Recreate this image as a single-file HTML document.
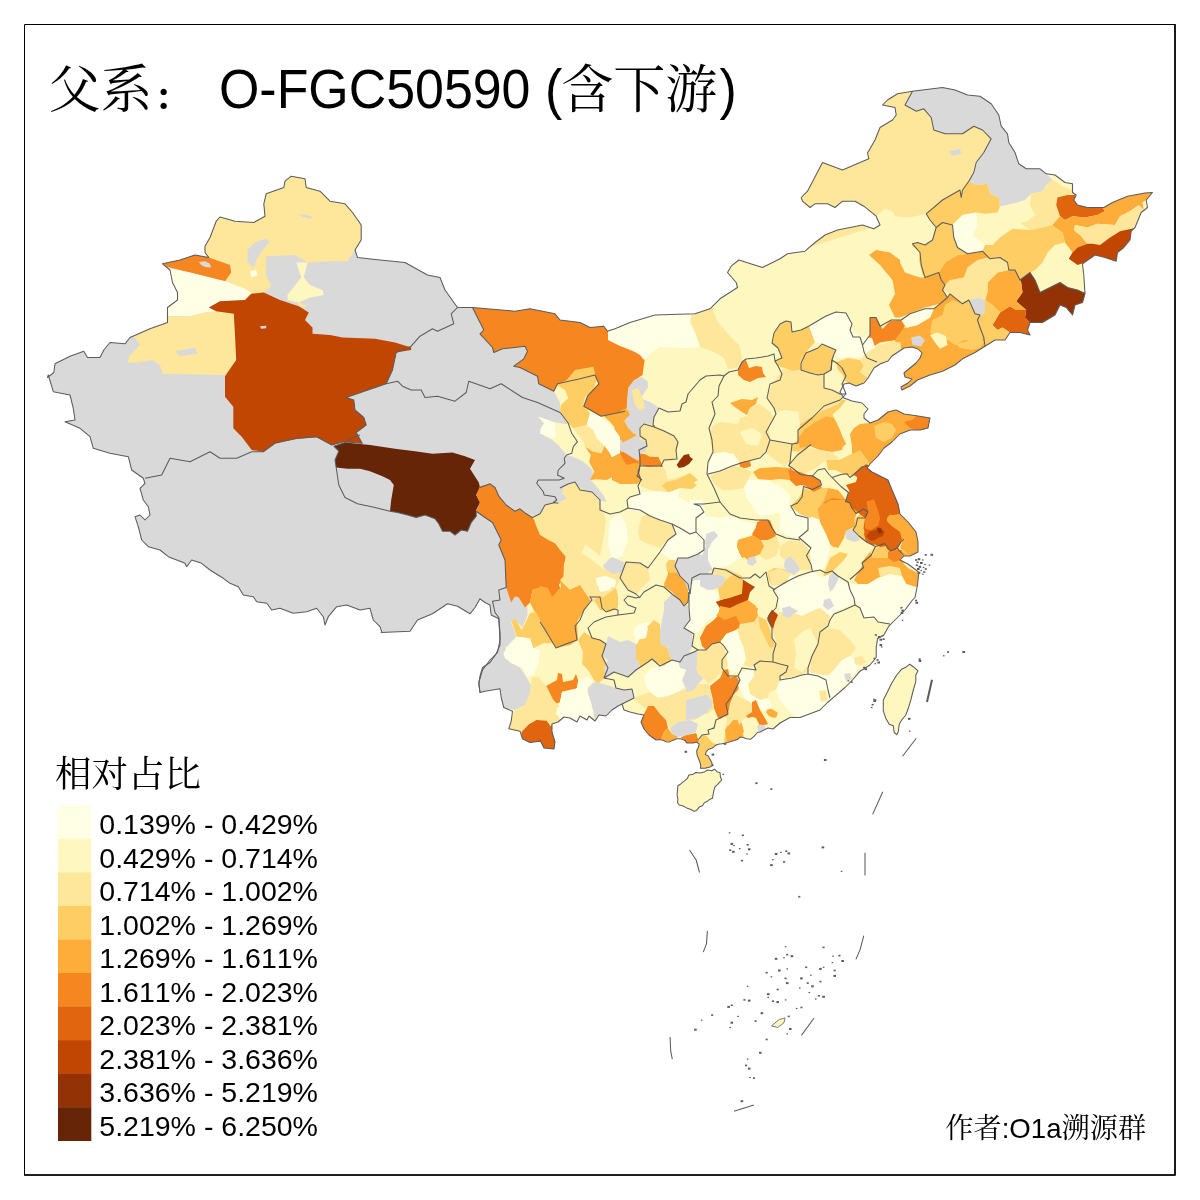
<!DOCTYPE html>
<html lang="zh"><head><meta charset="utf-8"><title>O-FGC50590</title>
<style>
html,body{margin:0;padding:0;background:#fff;}
body{font-kerning:none;width:1200px;height:1200px;overflow:hidden;position:relative;font-family:"Liberation Sans","Noto Serif CJK SC",sans-serif;color:#000;}
svg{position:absolute;left:0;top:0;}
.t{position:absolute;white-space:nowrap;line-height:1;}
.cj{font-family:"Noto Serif CJK SC","Noto Sans CJK SC",serif;}
.lg{position:absolute;left:99.3px;font-size:28.5px;line-height:1;white-space:nowrap;}
</style></head><body>
<svg width="1200" height="1200" viewBox="0 0 1200 1200" shape-rendering="geometricPrecision">

<defs><clipPath id="cn"><path d="M47.5,377.5 L53.8,372.5 L55.0,363.8 L70.0,356.2 L83.8,351.2 L87.5,357.5 L100.0,357.5 L103.8,350.0 L110.0,342.5 L125.0,343.8 L130.0,337.5 L150.0,328.8 L167.5,322.5 L167.5,307.5 L177.5,300.0 L177.5,292.5 L172.5,282.5 L170.0,270.0 L162.5,263.8 L180.0,260.0 L195.0,255.0 L208.8,257.5 L205.0,252.5 L205.0,246.2 L210.0,237.5 L216.2,221.2 L220.0,217.0 L235.0,221.2 L253.8,222.5 L265.0,216.2 L263.8,203.8 L266.2,193.8 L283.8,187.5 L285.0,181.2 L291.2,176.2 L305.0,178.8 L306.2,187.5 L320.0,191.2 L330.0,201.2 L345.0,203.8 L352.5,212.5 L361.2,225.0 L361.2,240.0 L355.0,250.0 L357.5,257.5 L380.0,260.0 L405.0,262.5 L427.5,275.0 L440.0,277.5 L445.0,290.0 L457.5,307.5 L472.5,307.5 L515.0,311.2 L530.0,308.8 L555.0,313.8 L560.0,320.0 L580.0,322.5 L590.0,327.5 L603.8,326.2 L607.5,331.2 L615.0,328.8 L630.0,322.5 L655.0,315.0 L695.0,313.8 L710.0,308.8 L720.0,298.8 L737.5,287.5 L736.2,282.5 L727.5,272.5 L731.2,266.2 L738.8,260.0 L762.5,267.5 L780.0,258.8 L787.5,253.8 L805.0,251.2 L815.0,242.5 L825.0,235.0 L837.5,230.0 L862.5,225.0 L873.8,228.8 L880.0,225.0 L876.2,216.2 L863.8,206.2 L855.0,201.2 L842.5,201.2 L835.0,207.5 L827.5,203.8 L815.0,203.8 L810.0,207.5 L802.5,201.2 L801.2,197.5 L807.5,191.2 L822.5,162.5 L842.5,170.0 L868.8,158.8 L867.5,152.5 L868.3,151.7 L875.0,140.0 L880.0,127.5 L892.5,120.0 L896.2,115.0 L895.0,107.5 L882.5,105.0 L887.5,100.0 L897.5,93.8 L912.5,91.2 L942.5,87.5 L955.0,90.0 L967.5,95.0 L980.0,96.2 L991.2,103.8 L998.8,115.0 L1001.2,126.2 L1007.5,133.8 L1008.8,142.5 L1015.0,152.5 L1018.8,163.8 L1026.2,168.8 L1040.0,168.8 L1046.2,173.8 L1055.0,175.0 L1065.0,182.5 L1072.5,183.8 L1072.5,192.5 L1076.2,195.0 L1073.8,200.0 L1077.5,205.0 L1087.5,207.5 L1103.8,207.5 L1112.5,202.5 L1127.5,196.2 L1145.0,193.0 L1152.5,192.5 L1146.2,200.0 L1147.5,207.5 L1141.2,212.5 L1135.0,227.5 L1131.2,231.2 L1130.0,240.0 L1123.8,247.5 L1117.5,252.5 L1116.2,261.2 L1105.0,257.5 L1095.0,255.0 L1082.5,263.8 L1083.8,275.0 L1085.0,293.8 L1082.5,302.5 L1075.0,305.0 L1072.5,315.0 L1066.2,307.5 L1060.0,305.0 L1055.0,315.0 L1042.5,322.5 L1030.0,322.5 L1027.5,330.0 L1030.0,335.0 L1020.0,332.5 L1010.0,332.5 L1005.0,340.0 L995.0,340.0 L985.0,346.2 L975.0,352.5 L962.5,358.8 L955.0,365.0 L942.5,371.2 L930.0,375.0 L917.5,380.0 L910.0,386.0 L902.0,390.0 L901.0,387.0 L908.0,383.0 L912.0,379.0 L905.0,377.0 L904.0,373.0 L910.0,368.0 L916.0,363.0 L920.0,358.0 L922.0,353.0 L918.0,349.0 L912.0,347.0 L904.0,348.0 L898.0,352.0 L892.0,356.0 L888.0,361.0 L880.0,364.0 L874.0,368.0 L868.0,378.0 L864.0,383.0 L856.0,386.0 L849.0,383.0 L844.0,384.0 L840.0,392.0 L844.0,398.0 L852.0,401.0 L862.0,403.0 L868.0,409.0 L864.0,414.0 L864.0,418.0 L870.0,423.0 L878.0,420.0 L888.0,412.0 L896.0,410.0 L904.0,414.0 L918.0,416.0 L930.0,418.0 L928.0,428.0 L920.0,430.0 L910.0,430.0 L900.0,434.0 L892.0,442.0 L884.0,448.0 L878.0,456.0 L870.0,464.0 L867.0,468.0 L872.0,472.0 L888.0,480.0 L892.0,490.0 L898.0,504.0 L900.0,514.0 L908.0,522.0 L916.0,532.0 L918.0,542.0 L918.0,552.0 L910.0,556.0 L904.0,556.0 L900.0,560.0 L908.0,564.0 L916.0,570.0 L918.8,572.5 L917.5,585.0 L915.0,597.5 L912.5,600.0 L905.0,610.0 L895.0,620.0 L888.8,626.2 L883.8,635.0 L877.5,638.8 L876.2,647.5 L876.2,657.5 L870.0,665.0 L860.0,671.2 L852.5,680.0 L845.0,687.5 L835.0,696.2 L827.5,702.5 L820.0,710.0 L810.0,713.8 L800.0,717.5 L790.0,717.5 L780.0,723.0 L773.0,729.0 L768.0,728.0 L760.0,732.0 L757.5,732.5 L754.2,736.2 L750.8,739.2 L746.7,738.8 L743.3,737.5 L740.0,737.1 L737.5,739.6 L733.3,740.8 L729.2,742.1 L725.0,743.3 L721.7,743.8 L718.3,744.2 L715.0,745.8 L713.3,747.5 L711.7,748.3 L708.8,749.2 L706.2,751.7 L705.4,754.6 L707.9,755.8 L710.0,759.2 L711.7,762.5 L712.5,765.4 L710.0,767.1 L705.0,768.3 L700.4,768.3 L700.8,765.4 L700.0,762.5 L698.8,759.2 L697.1,755.0 L696.7,750.8 L698.3,747.5 L699.2,744.2 L696.7,742.1 L693.3,742.9 L686.7,742.9 L685.0,740.4 L680.8,738.8 L676.7,738.8 L672.5,740.4 L669.2,742.1 L665.8,741.7 L663.3,740.4 L660.0,739.6 L656.0,740.0 L649.0,735.0 L644.0,729.0 L641.0,722.0 L644.0,715.0 L638.0,714.0 L630.0,712.0 L624.0,710.0 L622.0,704.0 L618.0,706.0 L612.0,710.0 L606.0,716.0 L599.0,715.0 L595.0,721.0 L589.0,716.0 L587.0,720.0 L580.0,716.0 L577.0,722.0 L570.0,718.0 L564.0,717.0 L558.0,722.0 L552.0,724.0 L552.0,732.0 L555.0,742.0 L554.0,749.0 L544.0,748.0 L540.0,740.0 L540.0,741.2 L530.0,742.5 L522.5,738.8 L520.0,731.2 L508.8,728.8 L511.2,721.2 L512.5,711.2 L503.8,707.5 L501.2,697.5 L500.0,688.8 L485.0,691.2 L480.0,692.5 L478.8,683.8 L480.0,676.2 L482.5,667.5 L490.0,662.5 L496.2,653.8 L500.0,645.0 L500.0,632.5 L498.8,618.8 L491.2,615.0 L490.0,605.0 L485.0,602.5 L480.0,598.8 L475.0,607.5 L470.0,613.8 L457.5,606.2 L447.5,603.8 L432.5,613.8 L417.5,620.0 L410.0,631.2 L381.2,632.5 L381.7,631.7 L380.0,626.7 L373.3,620.0 L370.0,608.3 L360.0,610.0 L346.7,605.0 L336.7,606.7 L328.3,616.7 L325.0,625.0 L323.3,616.7 L316.7,608.3 L306.7,611.7 L293.3,613.3 L280.0,608.3 L271.7,610.0 L266.7,603.3 L256.7,601.7 L253.3,596.7 L243.3,595.0 L238.3,586.7 L230.0,583.3 L223.3,578.3 L210.0,570.0 L201.7,563.3 L191.7,560.0 L186.7,566.7 L185.0,563.3 L176.7,560.0 L168.3,556.7 L160.0,550.0 L148.3,546.7 L141.7,540.0 L138.3,526.7 L135.0,516.7 L140.0,515.0 L145.0,520.0 L150.0,515.0 L148.3,506.7 L143.3,500.0 L140.0,488.3 L145.0,483.3 L143.3,478.3 L131.7,470.0 L128.3,456.7 L110.0,453.3 L93.3,448.3 L90.0,436.7 L80.0,428.3 L65.0,421.7 L75.0,420.0 L73.3,408.3 L70.0,395.0 L53.3,391.7 L48.3,375.0Z M909.7,664.2 L913.3,666.7 L918.0,670.8 L915.8,675.0 L915.8,681.7 L913.3,690.0 L910.8,700.0 L908.3,708.3 L905.8,715.0 L901.7,720.0 L899.2,724.2 L898.3,731.7 L896.7,734.7 L894.2,732.5 L893.3,725.8 L889.2,724.2 L885.8,718.3 L883.3,710.8 L883.3,700.0 L887.5,691.7 L891.7,683.3 L896.7,675.0 L901.7,669.2 L906.7,666.7Z M677.9,785.8 L680.4,784.2 L684.2,781.2 L687.5,778.3 L688.8,775.0 L692.5,774.6 L695.8,772.5 L700.0,772.9 L704.2,772.1 L707.5,770.0 L711.7,770.8 L714.6,769.2 L717.5,772.1 L720.0,772.5 L720.4,776.7 L721.7,780.0 L719.6,782.1 L717.5,784.6 L715.0,786.7 L713.8,790.8 L712.9,795.8 L712.5,798.3 L710.0,799.2 L707.5,801.2 L704.2,802.9 L702.5,805.8 L699.2,807.1 L696.7,810.4 L694.2,811.2 L690.8,809.6 L686.7,807.9 L682.5,805.8 L679.2,805.0 L677.5,802.5 L677.9,799.2 L677.1,795.0 L677.5,790.0Z"/></clipPath></defs>
<g stroke="none" clip-path="url(#cn)">
<path d="M47.5,377.5 L53.8,372.5 L55.0,363.8 L70.0,356.2 L83.8,351.2 L87.5,357.5 L100.0,357.5 L103.8,350.0 L110.0,342.5 L125.0,343.8 L130.0,337.5 L150.0,328.8 L167.5,322.5 L167.5,307.5 L177.5,300.0 L177.5,292.5 L172.5,282.5 L170.0,270.0 L162.5,263.8 L180.0,260.0 L195.0,255.0 L208.8,257.5 L205.0,252.5 L205.0,246.2 L210.0,237.5 L216.2,221.2 L220.0,217.0 L235.0,221.2 L253.8,222.5 L265.0,216.2 L263.8,203.8 L266.2,193.8 L283.8,187.5 L285.0,181.2 L291.2,176.2 L305.0,178.8 L306.2,187.5 L320.0,191.2 L330.0,201.2 L345.0,203.8 L352.5,212.5 L361.2,225.0 L361.2,240.0 L355.0,250.0 L357.5,257.5 L380.0,260.0 L405.0,262.5 L427.5,275.0 L440.0,277.5 L445.0,290.0 L457.5,307.5 L472.5,307.5 L515.0,311.2 L530.0,308.8 L555.0,313.8 L560.0,320.0 L580.0,322.5 L590.0,327.5 L603.8,326.2 L607.5,331.2 L615.0,328.8 L630.0,322.5 L655.0,315.0 L695.0,313.8 L710.0,308.8 L720.0,298.8 L737.5,287.5 L736.2,282.5 L727.5,272.5 L731.2,266.2 L738.8,260.0 L762.5,267.5 L780.0,258.8 L787.5,253.8 L805.0,251.2 L815.0,242.5 L825.0,235.0 L837.5,230.0 L862.5,225.0 L873.8,228.8 L880.0,225.0 L876.2,216.2 L863.8,206.2 L855.0,201.2 L842.5,201.2 L835.0,207.5 L827.5,203.8 L815.0,203.8 L810.0,207.5 L802.5,201.2 L801.2,197.5 L807.5,191.2 L822.5,162.5 L842.5,170.0 L868.8,158.8 L867.5,152.5 L868.3,151.7 L875.0,140.0 L880.0,127.5 L892.5,120.0 L896.2,115.0 L895.0,107.5 L882.5,105.0 L887.5,100.0 L897.5,93.8 L912.5,91.2 L942.5,87.5 L955.0,90.0 L967.5,95.0 L980.0,96.2 L991.2,103.8 L998.8,115.0 L1001.2,126.2 L1007.5,133.8 L1008.8,142.5 L1015.0,152.5 L1018.8,163.8 L1026.2,168.8 L1040.0,168.8 L1046.2,173.8 L1055.0,175.0 L1065.0,182.5 L1072.5,183.8 L1072.5,192.5 L1076.2,195.0 L1073.8,200.0 L1077.5,205.0 L1087.5,207.5 L1103.8,207.5 L1112.5,202.5 L1127.5,196.2 L1145.0,193.0 L1152.5,192.5 L1146.2,200.0 L1147.5,207.5 L1141.2,212.5 L1135.0,227.5 L1131.2,231.2 L1130.0,240.0 L1123.8,247.5 L1117.5,252.5 L1116.2,261.2 L1105.0,257.5 L1095.0,255.0 L1082.5,263.8 L1083.8,275.0 L1085.0,293.8 L1082.5,302.5 L1075.0,305.0 L1072.5,315.0 L1066.2,307.5 L1060.0,305.0 L1055.0,315.0 L1042.5,322.5 L1030.0,322.5 L1027.5,330.0 L1030.0,335.0 L1020.0,332.5 L1010.0,332.5 L1005.0,340.0 L995.0,340.0 L985.0,346.2 L975.0,352.5 L962.5,358.8 L955.0,365.0 L942.5,371.2 L930.0,375.0 L917.5,380.0 L910.0,386.0 L902.0,390.0 L901.0,387.0 L908.0,383.0 L912.0,379.0 L905.0,377.0 L904.0,373.0 L910.0,368.0 L916.0,363.0 L920.0,358.0 L922.0,353.0 L918.0,349.0 L912.0,347.0 L904.0,348.0 L898.0,352.0 L892.0,356.0 L888.0,361.0 L880.0,364.0 L874.0,368.0 L868.0,378.0 L864.0,383.0 L856.0,386.0 L849.0,383.0 L844.0,384.0 L840.0,392.0 L844.0,398.0 L852.0,401.0 L862.0,403.0 L868.0,409.0 L864.0,414.0 L864.0,418.0 L870.0,423.0 L878.0,420.0 L888.0,412.0 L896.0,410.0 L904.0,414.0 L918.0,416.0 L930.0,418.0 L928.0,428.0 L920.0,430.0 L910.0,430.0 L900.0,434.0 L892.0,442.0 L884.0,448.0 L878.0,456.0 L870.0,464.0 L867.0,468.0 L872.0,472.0 L888.0,480.0 L892.0,490.0 L898.0,504.0 L900.0,514.0 L908.0,522.0 L916.0,532.0 L918.0,542.0 L918.0,552.0 L910.0,556.0 L904.0,556.0 L900.0,560.0 L908.0,564.0 L916.0,570.0 L918.8,572.5 L917.5,585.0 L915.0,597.5 L912.5,600.0 L905.0,610.0 L895.0,620.0 L888.8,626.2 L883.8,635.0 L877.5,638.8 L876.2,647.5 L876.2,657.5 L870.0,665.0 L860.0,671.2 L852.5,680.0 L845.0,687.5 L835.0,696.2 L827.5,702.5 L820.0,710.0 L810.0,713.8 L800.0,717.5 L790.0,717.5 L780.0,723.0 L773.0,729.0 L768.0,728.0 L760.0,732.0 L757.5,732.5 L754.2,736.2 L750.8,739.2 L746.7,738.8 L743.3,737.5 L740.0,737.1 L737.5,739.6 L733.3,740.8 L729.2,742.1 L725.0,743.3 L721.7,743.8 L718.3,744.2 L715.0,745.8 L713.3,747.5 L711.7,748.3 L708.8,749.2 L706.2,751.7 L705.4,754.6 L707.9,755.8 L710.0,759.2 L711.7,762.5 L712.5,765.4 L710.0,767.1 L705.0,768.3 L700.4,768.3 L700.8,765.4 L700.0,762.5 L698.8,759.2 L697.1,755.0 L696.7,750.8 L698.3,747.5 L699.2,744.2 L696.7,742.1 L693.3,742.9 L686.7,742.9 L685.0,740.4 L680.8,738.8 L676.7,738.8 L672.5,740.4 L669.2,742.1 L665.8,741.7 L663.3,740.4 L660.0,739.6 L656.0,740.0 L649.0,735.0 L644.0,729.0 L641.0,722.0 L644.0,715.0 L638.0,714.0 L630.0,712.0 L624.0,710.0 L622.0,704.0 L618.0,706.0 L612.0,710.0 L606.0,716.0 L599.0,715.0 L595.0,721.0 L589.0,716.0 L587.0,720.0 L580.0,716.0 L577.0,722.0 L570.0,718.0 L564.0,717.0 L558.0,722.0 L552.0,724.0 L552.0,732.0 L555.0,742.0 L554.0,749.0 L544.0,748.0 L540.0,740.0 L540.0,741.2 L530.0,742.5 L522.5,738.8 L520.0,731.2 L508.8,728.8 L511.2,721.2 L512.5,711.2 L503.8,707.5 L501.2,697.5 L500.0,688.8 L485.0,691.2 L480.0,692.5 L478.8,683.8 L480.0,676.2 L482.5,667.5 L490.0,662.5 L496.2,653.8 L500.0,645.0 L500.0,632.5 L498.8,618.8 L491.2,615.0 L490.0,605.0 L485.0,602.5 L480.0,598.8 L475.0,607.5 L470.0,613.8 L457.5,606.2 L447.5,603.8 L432.5,613.8 L417.5,620.0 L410.0,631.2 L381.2,632.5 L381.7,631.7 L380.0,626.7 L373.3,620.0 L370.0,608.3 L360.0,610.0 L346.7,605.0 L336.7,606.7 L328.3,616.7 L325.0,625.0 L323.3,616.7 L316.7,608.3 L306.7,611.7 L293.3,613.3 L280.0,608.3 L271.7,610.0 L266.7,603.3 L256.7,601.7 L253.3,596.7 L243.3,595.0 L238.3,586.7 L230.0,583.3 L223.3,578.3 L210.0,570.0 L201.7,563.3 L191.7,560.0 L186.7,566.7 L185.0,563.3 L176.7,560.0 L168.3,556.7 L160.0,550.0 L148.3,546.7 L141.7,540.0 L138.3,526.7 L135.0,516.7 L140.0,515.0 L145.0,520.0 L150.0,515.0 L148.3,506.7 L143.3,500.0 L140.0,488.3 L145.0,483.3 L143.3,478.3 L131.7,470.0 L128.3,456.7 L110.0,453.3 L93.3,448.3 L90.0,436.7 L80.0,428.3 L65.0,421.7 L75.0,420.0 L73.3,408.3 L70.0,395.0 L53.3,391.7 L48.3,375.0Z" fill="#FFF7C0"/>
<path d="M909.7,664.2 L913.3,666.7 L918.0,670.8 L915.8,675.0 L915.8,681.7 L913.3,690.0 L910.8,700.0 L908.3,708.3 L905.8,715.0 L901.7,720.0 L899.2,724.2 L898.3,731.7 L896.7,734.7 L894.2,732.5 L893.3,725.8 L889.2,724.2 L885.8,718.3 L883.3,710.8 L883.3,700.0 L887.5,691.7 L891.7,683.3 L896.7,675.0 L901.7,669.2 L906.7,666.7Z" fill="#FFF7C0"/>
<path d="M677.9,785.8 L680.4,784.2 L684.2,781.2 L687.5,778.3 L688.8,775.0 L692.5,774.6 L695.8,772.5 L700.0,772.9 L704.2,772.1 L707.5,770.0 L711.7,770.8 L714.6,769.2 L717.5,772.1 L720.0,772.5 L720.4,776.7 L721.7,780.0 L719.6,782.1 L717.5,784.6 L715.0,786.7 L713.8,790.8 L712.9,795.8 L712.5,798.3 L710.0,799.2 L707.5,801.2 L704.2,802.9 L702.5,805.8 L699.2,807.1 L696.7,810.4 L694.2,811.2 L690.8,809.6 L686.7,807.9 L682.5,805.8 L679.2,805.0 L677.5,802.5 L677.9,799.2 L677.1,795.0 L677.5,790.0Z" fill="#FFF7C0"/>
<path d="M0.0,100.0 L472.5,100.0 L472.5,307.5 L483.8,330.0 L480.0,333.8 L492.5,347.5 L493.8,352.5 L502.5,348.8 L525.0,346.2 L527.5,351.2 L523.8,358.8 L513.8,366.2 L520.0,367.5 L537.5,376.2 L538.8,383.8 L553.8,391.2 L560.0,402.5 L560.0,412.5 L560.8,413.3 L568.3,423.3 L567.5,424.2 L555.0,422.5 L538.3,416.7 L544.2,423.3 L540.8,428.3 L540.0,433.3 L550.0,438.3 L558.3,445.0 L566.7,455.0 L573.3,456.7 L583.3,461.7 L590.8,468.3 L593.3,472.5 L590.8,480.0 L596.7,486.7 L603.3,495.0 L606.7,501.7 L600.0,500.8 L596.7,495.0 L585.0,490.8 L578.3,486.7 L575.0,481.7 L570.0,484.2 L563.3,488.3 L562.5,493.3 L567.5,498.3 L558.3,503.3 L548.3,504.2 L544.2,504.2 L542.5,510.0 L545.0,511.7 L533.3,515.8 L525.0,513.3 L520.0,508.3 L516.7,510.8 L508.3,506.7 L500.0,497.5 L527.5,607.5 L527.5,615.0 L522.5,627.5 L515.0,620.0 L511.2,622.5 L516.2,636.2 L512.5,642.5 L505.0,647.5 L510.0,662.5 L520.0,667.5 L525.0,675.0 L531.2,685.0 L530.0,695.0 L525.0,705.0 L515.0,710.0 L503.8,707.5 L495.0,715.0 L0.0,720.0Z" fill="#D9D9D9"/>
<path d="M202.5,260.0 L180.0,175.0 L342.5,175.0 L361.2,225.0 L361.2,240.0 L355.0,250.0 L347.5,261.2 L330.0,261.2 L307.5,262.5 L295.0,255.0 L266.2,256.2 L266.2,275.0 L271.2,286.2 L263.8,292.5 L252.5,293.8 L245.0,288.8 L225.0,281.2 L231.2,272.5 L230.0,265.0 L208.8,257.5Z" fill="#FEE79B"/>
<path d="M247.5,250.0 L255.0,242.5 L265.0,238.8 L270.0,241.2 L262.5,250.0 L256.2,260.0 L253.8,267.5 L247.5,262.5Z" fill="#D9D9D9"/>
<path d="M298.8,213.8 L305.0,214.5 L312.5,217.0 L311.2,218.8 L302.5,217.0Z" fill="#D9D9D9"/>
<path d="M250.0,271.2 L256.2,270.0 L257.5,275.0 L251.2,277.5Z" fill="#FFFFE5"/>
<path d="M155.0,263.8 L180.0,260.0 L195.0,253.8 L208.8,257.5 L230.0,265.0 L231.2,272.5 L225.0,281.2 L210.0,277.5 L190.0,272.5 L170.0,267.5Z" fill="#F68720"/>
<path d="M198.8,262.0 L205.0,261.2 L210.0,263.8 L211.2,267.5 L205.0,267.0 L201.2,265.0Z" fill="#D9D9D9"/>
<path d="M165.0,267.5 L190.0,272.5 L210.0,277.5 L225.0,281.2 L245.0,288.8 L252.5,293.8 L245.0,300.0 L220.0,301.2 L208.8,307.5 L216.2,311.2 L205.0,312.5 L190.0,316.2 L168.8,316.2 L155.0,307.5Z" fill="#FFFFE5"/>
<path d="M168.8,316.2 L190.0,316.2 L205.0,312.5 L216.2,311.2 L233.8,313.8 L235.0,335.0 L236.2,360.0 L225.0,375.0 L162.5,373.8 L160.0,365.0 L152.5,360.0 L137.5,362.5 L127.5,362.5 L130.0,355.0 L140.0,345.0 L135.0,337.5 L125.0,325.0 L167.5,322.5Z" fill="#FEE79B"/>
<path d="M175.0,351.2 L195.0,347.5 L197.5,353.8 L180.0,356.2Z" fill="#D9D9D9"/>
<path d="M296.2,262.5 L307.5,262.5 L303.8,277.5 L310.0,285.0 L322.5,290.0 L323.8,295.0 L310.0,297.5 L298.8,302.5 L287.5,300.0 L287.5,295.0 L301.2,277.5Z" fill="#FFF7C0"/>
<path d="M295.0,300.0 L298.8,302.5 L307.5,306.2 L301.2,307.5Z" fill="#FEE79B"/>
<path d="M208.8,307.5 L220.0,301.2 L245.0,300.0 L251.2,293.8 L263.8,292.5 L280.0,300.0 L298.8,306.2 L308.8,312.5 L305.0,320.0 L312.5,327.5 L312.5,333.8 L330.0,335.0 L342.5,337.5 L375.0,338.8 L395.0,342.5 L411.2,347.5 L411.2,350.0 L396.2,352.5 L392.5,370.0 L386.2,383.8 L346.2,397.5 L353.8,400.0 L355.0,410.0 L363.8,417.5 L366.2,425.0 L356.2,432.5 L362.5,443.8 L361.7,443.3 L343.3,441.7 L331.7,445.0 L316.7,437.3 L296.7,439.0 L275.0,443.3 L263.3,451.7 L251.7,450.0 L241.7,436.7 L233.3,428.3 L233.3,406.7 L225.0,396.7 L225.0,375.0 L225.0,376.2 L236.2,360.0 L235.0,335.0 L233.8,313.8 L216.2,311.2Z" fill="#C04602"/>
<path d="M260.0,326.2 L266.2,325.8 L266.2,328.2 L261.2,328.8Z" fill="#D9D9D9"/>
<path d="M333.8,446.2 L345.0,442.5 L370.0,445.0 L395.0,448.8 L415.0,451.2 L432.5,453.8 L452.5,452.5 L465.0,456.2 L475.0,460.0 L470.0,468.8 L478.8,482.5 L480.0,487.5 L476.2,495.0 L480.0,502.5 L476.2,510.0 L476.2,516.2 L471.2,522.5 L467.5,531.2 L461.2,530.0 L455.0,535.0 L450.0,531.2 L442.5,531.2 L438.8,523.8 L435.0,518.8 L425.0,515.0 L416.2,517.5 L407.5,515.0 L397.5,512.5 L390.0,511.2 L391.2,500.0 L393.8,485.0 L390.0,480.0 L382.5,476.2 L370.0,471.2 L360.0,468.8 L347.5,468.8 L336.2,467.5 L335.0,460.0 L338.8,451.2Z" fill="#662506"/>
<path d="M472.5,307.5 L483.8,330.0 L480.0,333.8 L492.5,347.5 L493.8,352.5 L502.5,348.8 L525.0,346.2 L527.5,351.2 L523.8,358.8 L513.8,366.2 L520.0,367.5 L537.5,376.2 L538.8,383.8 L553.8,391.2 L557.5,383.8 L580.0,378.8 L595.0,375.0 L598.8,383.8 L587.5,396.2 L583.8,406.2 L601.2,416.2 L625.0,411.2 L626.7,410.0 L628.0,390.0 L635.0,380.0 L642.5,375.0 L645.0,357.5 L640.0,354.0 L630.0,350.0 L619.0,345.0 L615.0,329.0 L615.0,300.0 L472.0,300.0Z" fill="#F68720"/>
<path d="M480.0,486.2 L490.0,483.8 L495.0,487.5 L498.8,496.2 L506.2,505.0 L515.0,511.2 L520.0,508.8 L526.2,513.8 L532.5,517.5 L540.0,527.5 L540.0,533.8 L560.0,546.2 L566.2,556.2 L563.8,565.0 L563.8,577.5 L558.8,585.0 L562.5,592.5 L555.0,597.5 L551.2,600.0 L540.0,587.5 L532.5,590.0 L530.0,602.5 L525.0,607.5 L518.8,597.5 L515.0,596.2 L511.2,602.5 L506.2,587.5 L505.0,560.0 L498.8,545.0 L501.2,540.0 L492.5,522.5 L485.0,517.5 L476.2,511.2 L480.0,502.5 L476.2,495.0Z" fill="#F68720"/>
<path d="M532.5,590.0 L540.0,587.5 L551.2,600.0 L562.5,592.5 L575.0,586.2 L582.5,597.5 L591.2,600.0 L582.5,612.5 L575.0,622.5 L577.5,640.0 L570.0,645.0 L557.5,647.5 L550.0,640.0 L545.0,626.2 L535.0,612.5 L530.0,602.5Z" fill="#FEAC3A"/>
<path d="M850.0,100.0 L980.0,60.0 L1000.0,200.0 L991.2,138.8 L983.8,152.5 L976.2,162.5 L973.8,172.5 L968.8,181.2 L962.5,190.0 L961.2,197.5 L960.0,190.0 L942.5,200.0 L926.2,213.8 L910.0,217.5 L895.0,216.2 L892.5,211.2 L885.0,208.8 L876.2,216.2 L880.0,225.0 L800.0,250.0 L780.0,150.0Z" fill="#FEE79B"/>
<path d="M948.8,151.2 L960.0,148.8 L961.2,153.8 L952.5,156.2Z" fill="#D9D9D9"/>
<path d="M912.5,91.2 L905.0,105.0 L916.2,111.2 L923.8,108.8 L931.2,117.5 L933.8,130.0 L945.0,133.8 L962.5,133.8 L973.8,126.2 L982.5,130.0 L991.2,138.8 L983.8,152.5 L976.2,162.5 L973.8,172.5 L968.8,181.2 L976.2,185.0 L987.5,183.8 L990.0,193.8 L998.8,197.5 L1000.0,206.2 L1012.5,203.8 L1025.0,200.0 L1031.2,193.8 L1042.5,191.2 L1046.2,185.0 L1052.5,180.0 L1046.2,173.8 L1055.0,155.0 L1020.0,105.0 L955.0,75.0 L912.5,80.0Z" fill="#D9D9D9"/>
<path d="M926.2,213.8 L942.5,200.0 L960.0,190.0 L961.2,197.5 L962.5,190.0 L968.8,181.2 L976.2,185.0 L987.5,183.8 L990.0,193.8 L998.8,197.5 L1000.0,206.2 L997.5,212.5 L985.0,213.8 L976.2,212.5 L962.5,215.0 L952.5,225.0 L947.5,223.8 L942.5,222.5 L936.2,227.5 L930.0,220.0Z" fill="#FECE65"/>
<path d="M952.5,225.0 L962.5,215.0 L976.2,212.5 L977.5,225.0 L972.5,235.0 L985.0,245.0 L982.5,251.2 L967.5,253.8 L957.5,247.5 L953.8,237.5Z" fill="#FFFFE5"/>
<path d="M1031.2,193.8 L1042.5,191.2 L1046.2,185.0 L1052.5,180.0 L1065.0,187.5 L1080.0,192.5 L1067.5,195.0 L1057.5,197.5 L1056.2,205.0 L1060.0,216.2 L1052.5,225.0 L1042.5,227.5 L1030.0,230.0 L1020.0,222.5 L1027.5,221.2 L1035.0,215.0 L1030.0,205.0Z" fill="#FEE79B"/>
<path d="M1057.5,197.5 L1067.5,195.0 L1075.0,195.0 L1077.5,203.8 L1087.5,207.5 L1102.5,207.5 L1105.0,211.2 L1097.5,215.0 L1085.0,217.5 L1072.5,216.2 L1065.0,220.0 L1060.0,216.2 L1056.2,205.0Z" fill="#E1640E"/>
<path d="M1105.0,211.2 L1102.5,207.5 L1112.5,202.5 L1127.5,196.2 L1145.0,190.0 L1160.0,190.0 L1142.5,202.5 L1143.8,210.0 L1138.8,205.0 L1130.0,211.2 L1120.0,216.2 L1115.0,225.0 L1097.5,223.8 L1087.5,227.5 L1075.0,225.0 L1073.8,230.0 L1080.0,235.0 L1087.5,243.8 L1077.5,247.5 L1072.5,252.5 L1065.0,242.5 L1062.5,232.5 L1055.0,227.5 L1052.5,225.0 L1060.0,216.2 L1065.0,220.0 L1072.5,216.2 L1085.0,217.5 L1097.5,215.0Z" fill="#FEAC3A"/>
<path d="M1075.0,225.0 L1087.5,227.5 L1097.5,223.8 L1115.0,225.0 L1120.0,216.2 L1130.0,211.2 L1138.8,205.0 L1143.8,210.0 L1152.5,205.0 L1137.5,220.0 L1132.5,230.0 L1120.0,231.2 L1110.0,237.5 L1100.0,245.0 L1092.5,243.8 L1087.5,243.8 L1080.0,235.0 L1073.8,230.0Z" fill="#FEE79B"/>
<path d="M1072.5,252.5 L1077.5,247.5 L1087.5,243.8 L1092.5,243.8 L1100.0,245.0 L1110.0,237.5 L1120.0,231.2 L1137.5,227.5 L1130.0,240.0 L1123.8,247.5 L1117.5,252.5 L1116.2,263.8 L1105.0,257.5 L1095.0,255.0 L1085.0,262.5 L1077.5,265.0 L1068.8,258.8Z" fill="#C04602"/>
<path d="M985.0,245.0 L992.5,245.0 L1000.0,237.5 L1012.5,228.8 L1030.0,230.0 L1042.5,227.5 L1052.5,225.0 L1055.0,227.5 L1062.5,232.5 L1065.0,242.5 L1055.0,245.0 L1047.5,252.5 L1042.5,262.5 L1035.0,270.0 L1030.0,272.5 L1020.0,280.0 L1015.0,270.0 L1008.8,270.0 L1007.5,262.5 L1000.0,257.5 L990.0,258.8 L982.5,251.2Z" fill="#FECE65"/>
<path d="M1030.0,272.5 L1035.0,280.0 L1040.0,292.5 L1050.0,287.5 L1060.0,282.5 L1067.5,287.5 L1077.5,290.0 L1087.5,293.8 L1085.0,305.0 L1075.0,305.0 L1073.8,317.5 L1066.2,307.5 L1060.0,305.0 L1055.0,315.0 L1042.5,322.5 L1030.0,322.5 L1025.0,317.5 L1026.2,310.0 L1016.2,301.2 L1022.5,292.5 L1021.2,282.5 L1020.0,280.0Z" fill="#933204"/>
<path d="M1000.0,312.5 L1010.0,306.2 L1016.2,310.0 L1026.2,310.0 L1025.0,317.5 L1030.0,322.5 L1027.5,330.0 L1032.5,337.5 L1020.0,333.8 L1010.0,332.5 L1002.5,327.5 L997.5,330.0 L992.5,325.0Z" fill="#E1640E"/>
<path d="M987.5,282.5 L997.5,272.5 L1008.8,270.0 L1015.0,270.0 L1020.0,280.0 L1021.2,282.5 L1022.5,292.5 L1016.2,301.2 L1026.2,310.0 L1016.2,310.0 L1010.0,306.2 L1000.0,312.5 L992.5,305.0 L985.0,300.0 L987.5,292.5Z" fill="#FEAC3A"/>
<path d="M992.5,325.0 L997.5,330.0 L1002.5,327.5 L1010.0,332.5 L1005.0,340.0 L995.0,342.5 L985.0,348.8 L983.8,337.5 L980.0,327.5 L977.5,320.0 L980.0,315.0 L985.0,312.5 L985.0,300.0 L992.5,305.0 L1000.0,312.5Z" fill="#FECE65"/>
<path d="M968.8,300.0 L978.8,297.5 L985.0,300.0 L985.0,312.5 L980.0,315.0 L975.0,313.8 L971.2,305.0Z" fill="#D9D9D9"/>
<path d="M945.0,285.0 L950.0,280.0 L963.8,277.5 L967.5,267.5 L977.5,260.0 L987.5,257.5 L990.0,258.8 L1000.0,257.5 L1007.5,262.5 L1008.8,270.0 L997.5,272.5 L987.5,282.5 L987.5,292.5 L985.0,300.0 L978.8,297.5 L968.8,300.0 L962.5,303.8 L950.0,293.8 L942.5,290.0Z" fill="#FEE79B"/>
<path d="M938.8,272.5 L945.0,262.5 L957.5,255.0 L967.5,253.8 L982.5,251.2 L990.0,258.8 L987.5,257.5 L977.5,260.0 L967.5,267.5 L963.8,277.5 L950.0,280.0 L945.0,285.0 L941.2,280.0Z" fill="#FEAC3A"/>
<path d="M912.5,243.8 L917.5,242.5 L925.0,245.0 L932.5,240.0 L936.2,227.5 L942.5,222.5 L947.5,223.8 L952.5,225.0 L953.8,237.5 L957.5,247.5 L967.5,253.8 L957.5,255.0 L945.0,262.5 L938.8,272.5 L925.0,277.5 L921.2,265.0 L920.0,252.5 L930.0,277.5 L922.5,275.0 L919.0,260.0 L920.0,252.5 L912.5,246.0Z" fill="#FECE65"/>
<path d="M869.0,255.0 L876.0,250.0 L890.0,252.5 L900.0,260.0 L900.0,262.5 L905.0,272.5 L920.0,277.5 L925.0,277.5 L938.8,272.5 L941.2,280.0 L945.0,285.0 L942.5,290.0 L947.5,297.5 L940.0,303.8 L925.0,307.5 L912.5,312.5 L900.0,317.5 L895.0,317.5 L889.0,305.0 L895.0,294.0 L892.5,280.0 L880.0,265.0Z" fill="#FEAC3A"/>
<path d="M895.0,335.0 L903.8,327.5 L907.5,327.5 L917.5,325.0 L930.0,317.5 L933.8,308.8 L940.0,303.8 L947.5,297.5 L950.0,293.8 L962.5,303.8 L968.8,300.0 L971.2,305.0 L975.0,313.8 L980.0,315.0 L977.5,320.0 L980.0,327.5 L983.8,337.5 L985.0,348.8 L955.0,392.5 L880.0,392.5 L880.0,362.5 L895.0,360.0 L902.5,355.0 L900.0,342.5 L890.0,342.5Z" fill="#FEAC3A"/>
<path d="M901.2,320.0 L910.0,313.8 L925.0,308.8 L933.8,308.8 L930.0,317.5 L917.5,325.0 L907.5,327.5Z" fill="#FFFFE5"/>
<path d="M870.0,317.5 L876.0,317.5 L882.5,329.0 L890.0,321.0 L901.0,320.0 L905.0,326.0 L895.0,340.0 L880.0,342.5 L867.5,350.0 L862.5,345.0 L870.0,335.0Z" fill="#F68720"/>
<path d="M945.0,305.0 L952.5,300.0 L962.5,303.8 L968.8,300.0 L971.2,305.0 L975.0,313.8 L980.0,315.0 L977.5,320.0 L980.0,327.5 L983.8,337.5 L977.5,342.5 L965.0,340.0 L955.0,345.0 L947.5,340.0 L937.5,337.5 L930.0,332.5 L932.5,320.0 L942.5,315.0Z" fill="#FECE65"/>
<path d="M930.0,335.0 L937.5,332.5 L946.2,336.2 L947.5,345.0 L940.0,348.8 L935.0,342.5Z" fill="#FFF7C0"/>
<path d="M911.2,337.5 L920.0,335.5 L925.0,340.0 L921.2,346.2 L912.5,345.0Z" fill="#D9D9D9"/>
<path d="M880.0,345.0 L890.0,342.5 L900.0,342.5 L902.5,355.0 L895.0,360.0 L880.0,362.5 L870.0,355.0 L870.0,347.5Z" fill="#FEE79B"/>
<path d="M620.0,327.0 L656.0,314.0 L692.0,312.0 L690.0,322.0 L696.0,334.0 L700.0,347.0 L688.0,348.0 L660.0,347.0 L650.0,354.0 L644.0,360.0 L640.0,355.0 L632.0,350.0 L620.0,346.0 L608.0,340.0 L608.0,324.0Z" fill="#FFFFE5"/>
<path d="M692.0,312.0 L712.0,308.0 L718.0,322.0 L728.0,334.0 L740.0,346.0 L742.0,360.0 L737.0,368.0 L728.0,369.0 L724.0,358.0 L714.0,352.0 L700.0,347.0 L696.0,334.0 L690.0,322.0Z" fill="#FEE79B"/>
<path d="M634.0,380.0 L642.0,377.0 L648.0,382.0 L644.0,392.0 L640.0,398.0 L650.0,402.0 L659.0,408.0 L654.0,417.0 L653.0,425.0 L644.0,424.0 L638.0,436.0 L646.0,441.0 L646.0,452.0 L640.0,454.0 L639.0,460.0 L632.0,458.0 L620.0,450.0 L620.0,440.0 L630.0,442.0 L634.0,432.0 L628.0,426.0 L626.0,420.0 L630.0,412.0 L628.0,400.0 L628.0,388.0Z" fill="#D9D9D9"/>
<path d="M629.0,390.0 L636.0,388.0 L640.0,398.0 L644.0,404.0 L642.0,411.0 L634.0,406.0 L629.0,398.0Z" fill="#FEE79B"/>
<path d="M620.0,411.0 L626.0,408.0 L630.0,412.0 L626.0,420.0 L628.0,426.0 L634.0,432.0 L630.0,442.0 L620.0,440.0 L614.0,430.0Z" fill="#FEAC3A"/>
<path d="M644.0,424.0 L653.0,425.0 L666.0,431.0 L678.0,438.0 L679.0,444.0 L676.0,450.0 L677.0,460.0 L662.0,460.0 L656.0,458.0 L646.0,452.0 L646.0,441.0 L638.0,436.0Z" fill="#FEE79B"/>
<path d="M640.0,454.0 L646.0,452.0 L656.0,458.0 L660.0,460.0 L663.0,467.0 L652.0,468.0 L640.0,465.0 L639.0,460.0Z" fill="#F68720"/>
<path d="M620.0,450.0 L632.0,458.0 L639.0,460.0 L640.0,465.0 L637.0,474.0 L642.0,480.0 L632.0,484.0 L620.0,484.0 L612.0,480.0 L612.0,452.0Z" fill="#FEAC3A"/>
<path d="M620.0,460.0 L628.0,464.0 L632.0,470.0 L626.0,472.0 L620.0,470.0 L614.0,466.0Z" fill="#F68720"/>
<path d="M680.0,460.0 L684.0,455.0 L689.0,454.0 L690.0,457.0 L693.0,459.0 L689.0,464.0 L684.0,467.0 L679.0,468.0 L676.6,465.0Z" fill="#933204"/>
<path d="M640.0,468.0 L652.0,468.0 L663.0,467.0 L666.0,472.0 L668.0,482.0 L663.0,487.0 L661.0,491.0 L650.0,490.0 L640.0,486.0 L642.0,480.0 L637.0,474.0Z" fill="#FEE79B"/>
<path d="M663.0,487.0 L668.0,482.0 L680.0,479.0 L690.0,473.0 L692.0,482.0 L697.0,485.0 L692.0,489.0 L680.0,488.0 L670.0,492.0 L661.0,491.0Z" fill="#FECE65"/>
<path d="M646.0,492.0 L661.0,491.0 L670.0,492.0 L680.0,488.0 L678.0,498.0 L682.0,502.0 L693.0,503.0 L698.0,508.0 L704.0,511.0 L703.0,517.0 L696.0,516.0 L686.0,522.0 L674.0,524.0 L660.0,518.0 L646.0,512.0 L632.0,510.0 L628.0,500.0 L636.0,495.0Z" fill="#FFFFE5"/>
<path d="M738.0,370.0 L742.0,362.0 L746.0,360.0 L749.0,368.0 L756.0,366.0 L762.0,367.0 L763.0,373.0 L766.0,377.0 L758.0,378.0 L750.0,382.0 L744.0,380.0 L738.0,375.0Z" fill="#F68720"/>
<path d="M774.0,333.0 L780.0,324.0 L786.0,321.0 L791.0,322.0 L792.0,332.0 L801.0,330.0 L809.0,326.0 L815.0,342.0 L808.0,350.0 L800.0,362.0 L801.0,370.0 L792.0,371.0 L784.0,368.0 L778.0,366.0 L774.0,362.0 L782.0,358.0 L778.0,348.0 L772.0,343.0Z" fill="#FECE65"/>
<path d="M809.0,326.0 L826.0,316.0 L836.0,312.0 L846.0,313.0 L852.0,324.0 L850.0,330.0 L860.0,337.0 L872.0,338.0 L876.0,350.0 L860.0,357.0 L850.0,357.0 L840.0,358.0 L834.0,354.0 L836.0,350.0 L822.0,344.0 L815.0,342.0Z" fill="#FFFFE5"/>
<path d="M801.0,363.0 L806.0,353.0 L818.0,348.0 L822.0,344.0 L836.0,350.0 L834.0,354.0 L832.0,360.0 L831.0,370.0 L824.0,374.0 L818.0,375.0 L810.0,373.0 L801.0,370.0Z" fill="#FECE65"/>
<path d="M730.0,403.0 L742.0,399.0 L752.0,400.0 L758.0,397.0 L756.0,404.0 L750.0,408.0 L747.0,415.0 L742.0,412.0 L736.0,408.0Z" fill="#FEAC3A"/>
<path d="M714.0,430.0 L726.0,428.0 L738.0,425.0 L740.0,418.0 L748.0,416.0 L750.0,408.0 L760.0,404.0 L770.0,412.0 L774.0,418.0 L766.0,432.0 L770.0,440.0 L766.0,452.0 L748.0,449.0 L740.0,440.0 L738.0,430.0 L734.0,432.0 L728.0,438.0 L716.0,438.0 L711.0,433.0Z" fill="#FEE79B"/>
<path d="M740.0,428.0 L750.0,424.0 L760.0,430.0 L764.0,440.0 L756.0,444.0 L744.0,438.0Z" fill="#FFF7C0"/>
<path d="M711.0,444.0 L724.0,440.0 L740.0,440.0 L748.0,449.0 L766.0,452.0 L760.0,458.0 L744.0,462.0 L740.0,462.0 L732.0,454.0 L724.0,452.0 L714.0,454.0Z" fill="#FEE79B"/>
<path d="M714.0,454.0 L724.0,452.0 L732.0,454.0 L740.0,462.0 L732.0,466.0 L720.0,471.0 L708.0,474.0 L707.0,466.0Z" fill="#FFFFE5"/>
<path d="M740.0,463.0 L750.0,463.0 L751.0,466.0 L746.0,468.0 L741.0,467.0Z" fill="#F68720"/>
<path d="M772.0,384.0 L784.0,368.0 L792.0,371.0 L801.0,370.0 L810.0,373.0 L818.0,375.0 L824.0,374.0 L824.0,388.0 L832.0,390.0 L840.0,394.0 L836.0,400.0 L824.0,406.0 L818.0,412.0 L812.0,418.0 L806.0,420.0 L800.0,412.0 L786.0,410.0 L776.0,412.0 L767.0,398.0Z" fill="#FEE79B"/>
<path d="M798.0,400.0 L808.0,398.0 L820.0,402.0 L824.0,406.0 L818.0,412.0 L812.0,418.0 L806.0,420.0 L800.0,412.0 L797.0,406.0Z" fill="#FECE65"/>
<path d="M798.0,430.0 L812.0,418.0 L824.0,406.0 L836.0,400.0 L846.0,400.0 L840.0,408.0 L832.0,415.0 L836.0,422.0 L842.0,436.0 L846.0,444.0 L838.0,450.0 L828.0,448.0 L820.0,449.0 L812.0,444.0 L800.0,452.0 L792.0,451.0 L792.0,444.0 L798.0,440.0Z" fill="#FECE65"/>
<path d="M832.0,415.0 L836.0,422.0 L842.0,436.0 L846.0,444.0 L838.0,450.0 L828.0,448.0 L820.0,449.0 L812.0,444.0 L820.0,436.0 L826.0,424.0Z" fill="#FEAC3A"/>
<path d="M769.0,440.0 L792.0,444.0 L792.0,451.0 L790.0,462.0 L784.0,466.0 L772.0,458.0 L766.0,452.0Z" fill="#FEE79B"/>
<path d="M710.0,476.0 L720.0,471.0 L732.0,466.0 L740.0,467.0 L752.0,472.0 L748.0,480.0 L744.0,488.0 L732.0,490.0 L722.0,490.0 L714.0,484.0Z" fill="#FEE79B"/>
<path d="M748.0,480.0 L753.0,480.0 L770.0,480.0 L776.0,490.0 L772.0,498.0 L760.0,500.0 L750.0,492.0 L744.0,488.0Z" fill="#FFFFE5"/>
<path d="M760.0,500.0 L772.0,498.0 L780.0,500.0 L790.0,508.0 L786.0,514.0 L774.0,512.0 L764.0,510.0Z" fill="#FFFFE5"/>
<path d="M753.0,472.0 L760.0,468.0 L776.0,467.0 L790.0,468.0 L796.0,472.0 L800.0,475.0 L812.0,475.0 L820.0,481.0 L821.0,488.0 L812.0,491.0 L804.0,484.0 L796.0,486.0 L790.0,480.0 L780.0,479.0 L770.0,480.0 L758.0,479.0Z" fill="#FEAC3A"/>
<path d="M790.0,468.0 L796.0,472.0 L800.0,475.0 L812.0,475.0 L820.0,481.0 L821.0,488.0 L812.0,491.0 L804.0,484.0 L796.0,486.0 L790.0,480.0Z" fill="#F68720"/>
<path d="M792.0,506.0 L800.0,502.0 L804.0,490.0 L812.0,491.0 L821.0,488.0 L826.0,492.0 L824.0,502.0 L822.0,510.0 L818.0,520.0 L804.0,516.0 L796.0,514.0Z" fill="#FECE65"/>
<path d="M756.0,526.0 L760.0,520.0 L766.0,523.0 L770.0,520.0 L775.0,533.0 L776.0,540.0 L756.0,540.0Z" fill="#F68720"/>
<path d="M638.0,530.0 L642.0,516.0 L650.0,514.0 L660.0,518.0 L670.0,526.0 L674.0,540.0 L640.0,540.0Z" fill="#FEE79B"/>
<path d="M870.0,350.0 L880.0,346.0 L894.0,340.0 L900.0,346.0 L892.0,352.0 L886.0,360.0 L878.0,364.0 L874.0,356.0Z" fill="#FEE79B"/>
<path d="M956.0,344.0 L968.0,341.0 L980.0,338.0 L984.0,342.0 L980.0,348.0 L972.0,350.0 L960.0,348.0Z" fill="#FECE65"/>
<path d="M836.0,362.0 L848.0,358.0 L860.0,360.0 L864.0,366.0 L860.0,372.0 L868.0,378.0 L864.0,382.0 L856.0,388.0 L846.0,382.0 L842.0,374.0 L838.0,370.0Z" fill="#FECE65"/>
<path d="M860.0,360.0 L870.0,350.0 L878.0,364.0 L874.0,368.0 L868.0,378.0 L860.0,372.0 L864.0,366.0Z" fill="#FEE79B"/>
<path d="M780.0,378.0 L800.0,374.0 L816.0,373.0 L824.0,388.0 L832.0,394.0 L840.0,392.0 L844.0,398.0 L838.0,404.0 L830.0,408.0 L820.0,412.0 L810.0,418.0 L800.0,424.0 L798.0,410.0 L792.0,400.0 L780.0,398.0Z" fill="#FEE79B"/>
<path d="M850.0,434.0 L854.0,428.0 L860.0,424.0 L870.0,423.0 L878.0,420.0 L888.0,410.0 L896.0,408.0 L904.0,412.0 L918.0,414.0 L932.0,416.0 L930.0,430.0 L920.0,432.0 L910.0,432.0 L900.0,436.0 L892.0,444.0 L884.0,450.0 L878.0,458.0 L870.0,466.0 L866.0,468.0 L860.0,470.0 L856.0,476.0 L844.0,474.0 L836.0,470.0 L840.0,460.0 L852.0,454.0 L852.0,446.0Z" fill="#FEAC3A"/>
<path d="M874.0,426.0 L884.0,422.0 L892.0,424.0 L896.0,430.0 L892.0,438.0 L884.0,442.0 L876.0,438.0Z" fill="#FECE65"/>
<path d="M904.0,422.0 L912.0,420.0 L918.0,415.0 L932.0,416.0 L930.0,430.0 L920.0,431.0 L910.0,428.0Z" fill="#F68720"/>
<path d="M812.0,424.0 L826.0,416.0 L834.0,418.0 L840.0,430.0 L844.0,442.0 L842.0,450.0 L832.0,452.0 L820.0,450.0 L810.0,446.0 L800.0,448.0 L798.0,438.0 L804.0,430.0Z" fill="#FEAC3A"/>
<path d="M800.0,424.0 L810.0,418.0 L820.0,412.0 L830.0,408.0 L834.0,418.0 L826.0,416.0 L812.0,424.0 L804.0,430.0 L798.0,438.0Z" fill="#FECE65"/>
<path d="M826.0,460.0 L840.0,460.0 L852.0,454.0 L860.0,450.0 L866.0,458.0 L870.0,464.0 L866.0,468.0 L860.0,470.0 L856.0,476.0 L844.0,474.0 L836.0,470.0 L828.0,470.0Z" fill="#FECE65"/>
<path d="M790.0,462.0 L800.0,450.0 L810.0,448.0 L820.0,450.0 L832.0,452.0 L840.0,460.0 L826.0,460.0 L816.0,468.0 L804.0,474.0 L792.0,470.0Z" fill="#FEE79B"/>
<path d="M846.0,485.0 L856.0,482.0 L860.0,470.0 L866.0,464.0 L874.0,470.0 L890.0,478.0 L894.0,490.0 L900.0,504.0 L902.0,514.0 L910.0,522.0 L918.0,532.0 L917.0,538.0 L910.0,540.0 L904.0,536.0 L898.0,548.0 L894.0,552.0 L884.0,548.0 L874.0,542.0 L868.0,540.0 L866.0,530.0 L868.0,522.0 L866.0,512.0 L860.0,510.0 L856.0,514.0 L850.0,506.0 L846.0,500.0 L850.0,492.0Z" fill="#E1640E"/>
<path d="M868.0,532.0 L876.0,528.0 L884.0,530.0 L885.0,536.0 L878.0,542.0 L870.0,542.0 L867.0,538.0Z" fill="#C04602"/>
<path d="M876.0,528.4 L881.0,527.6 L883.0,532.0 L879.0,534.4 L875.6,532.0Z" fill="#933204"/>
<path d="M886.0,516.0 L900.0,514.0 L908.0,522.0 L920.0,530.0 L922.0,542.0 L920.0,554.0 L910.0,556.0 L900.0,548.0 L904.0,536.0 L898.0,530.0 L888.0,526.0Z" fill="#FEAC3A"/>
<path d="M788.0,470.0 L800.0,472.0 L810.0,476.0 L818.0,482.0 L822.0,488.0 L814.0,492.0 L806.0,486.0 L796.0,484.0 L790.0,478.0Z" fill="#F68720"/>
<path d="M792.0,506.0 L800.0,496.0 L804.0,488.0 L814.0,492.0 L822.0,488.0 L828.0,488.0 L824.0,500.0 L818.0,510.0 L820.0,520.0 L810.0,516.0 L800.0,514.0Z" fill="#FECE65"/>
<path d="M828.0,488.0 L838.0,490.0 L846.0,500.0 L850.0,506.0 L856.0,514.0 L854.0,522.0 L852.0,528.0 L844.0,532.0 L838.0,540.0 L834.0,548.0 L830.0,542.0 L828.0,530.0 L820.0,520.0 L818.0,510.0 L824.0,500.0Z" fill="#FEAC3A"/>
<path d="M824.0,502.0 L832.0,498.0 L846.0,500.0 L850.0,506.0 L846.0,510.0 L836.0,508.0 L828.0,510.0Z" fill="#F68720"/>
<path d="M854.0,522.0 L860.0,516.0 L866.0,518.0 L865.0,530.0 L867.0,538.0 L862.0,540.0 L856.0,534.0 L852.0,528.0Z" fill="#FECE65"/>
<path d="M845.0,531.0 L852.0,529.0 L857.0,535.0 L860.0,540.0 L854.0,542.0 L846.0,539.0Z" fill="#D9D9D9"/>
<path d="M780.0,500.0 L790.0,506.0 L800.0,514.0 L810.0,516.0 L820.0,520.0 L828.0,530.0 L830.0,542.0 L826.0,550.0 L828.0,560.0 L820.0,570.0 L810.0,570.0 L808.0,550.0 L800.0,538.0 L788.0,536.0 L780.0,532.0Z" fill="#FFFFE5"/>
<path d="M862.0,562.0 L870.0,552.0 L876.0,546.0 L884.0,548.0 L894.0,552.0 L898.0,548.0 L910.0,556.0 L904.0,562.0 L900.0,570.0 L864.0,570.0Z" fill="#FEAC3A"/>
<path d="M888.0,556.0 L898.0,550.0 L904.0,558.0 L900.0,566.0 L892.0,564.0Z" fill="#F68720"/>
<path d="M870.0,552.0 L876.0,546.0 L884.0,548.0 L888.0,554.0 L882.0,560.0 L874.0,558.0Z" fill="#FEE79B"/>
<path d="M556.7,385.0 L566.7,380.0 L575.0,370.0 L593.3,366.7 L596.7,380.0 L593.3,390.0 L585.0,396.7 L583.3,405.0 L590.0,413.3 L586.7,425.0 L573.3,428.3 L568.3,423.3 L560.0,411.7 L560.8,405.0 L568.3,398.3 L565.0,390.0Z" fill="#FECE65"/>
<path d="M538.3,416.7 L555.0,422.5 L555.8,436.7 L550.0,438.3 L540.0,433.3 L540.8,428.3 L544.2,423.3Z" fill="#FFFFE5"/>
<path d="M586.7,425.0 L590.0,413.3 L600.0,416.7 L606.7,421.7 L615.0,430.0 L620.0,436.7 L620.0,445.0 L620.0,453.3 L611.7,457.5 L610.0,453.3 L604.2,445.8 L596.7,438.3 L593.3,430.0Z" fill="#FFFFE5"/>
<path d="M573.3,428.3 L586.7,425.0 L593.3,430.0 L596.7,438.3 L604.2,445.8 L601.7,453.3 L593.3,451.7 L585.0,446.7 L583.3,441.7 L576.7,433.3Z" fill="#FEE79B"/>
<path d="M585.0,446.7 L593.3,451.7 L601.7,453.3 L604.2,445.8 L610.0,453.3 L611.7,457.5 L620.0,453.3 L626.7,456.7 L633.3,460.0 L640.0,463.3 L639.2,473.3 L641.7,480.0 L636.7,484.2 L626.7,481.7 L615.0,475.8 L606.7,480.0 L596.7,479.2 L590.0,480.0 L594.2,471.7 L589.2,461.7 L590.8,455.0Z" fill="#FEAC3A"/>
<path d="M620.0,453.3 L623.3,451.7 L633.3,458.3 L638.3,461.7 L640.0,463.3 L633.3,463.3 L626.7,465.0 L623.3,460.0Z" fill="#F68720"/>
<path d="M639.2,453.3 L645.0,454.2 L650.0,456.7 L658.3,456.7 L662.5,466.7 L653.3,467.5 L646.7,464.2 L640.0,463.3Z" fill="#F68720"/>
<path d="M603.3,415.8 L616.7,412.5 L628.3,410.8 L630.0,415.0 L624.2,420.8 L628.3,428.3 L633.3,433.3 L636.7,435.0 L631.7,438.3 L626.7,441.7 L622.5,442.5 L620.0,436.7 L616.7,430.0 L610.0,421.7Z" fill="#FEAC3A"/>
<path d="M628.3,390.0 L633.3,386.7 L638.3,380.0 L646.7,380.0 L648.3,386.7 L641.7,396.7 L640.0,400.0 L650.0,403.3 L660.0,408.3 L655.0,413.3 L653.3,421.7 L643.3,423.3 L641.7,430.0 L638.3,433.3 L633.3,433.3 L628.3,428.3 L624.2,420.8 L630.0,415.0 L628.3,410.8 L626.7,410.0Z" fill="#D9D9D9"/>
<path d="M631.7,390.0 L638.3,388.3 L643.3,400.0 L645.0,408.3 L640.0,410.8 L635.0,405.0 L633.3,396.7Z" fill="#FEE79B"/>
<path d="M620.0,445.0 L622.5,442.5 L631.7,438.3 L638.3,435.8 L640.0,440.0 L646.7,441.7 L647.5,446.7 L645.0,451.7 L639.2,453.3 L638.3,460.0 L633.3,457.5 L626.7,453.3 L620.0,450.0Z" fill="#D9D9D9"/>
<path d="M641.7,424.2 L653.3,423.3 L655.0,427.5 L666.7,433.3 L675.0,435.8 L679.2,441.7 L676.7,450.0 L676.7,460.0 L663.3,461.7 L658.3,456.7 L650.0,456.7 L645.0,454.2 L639.2,453.3 L645.0,451.7 L647.5,446.7 L646.7,441.7 L640.0,440.0 L638.3,433.3Z" fill="#FEE79B"/>
<path d="M533.3,515.8 L545.0,511.7 L542.5,510.0 L544.2,504.2 L558.3,503.3 L567.5,498.3 L562.5,493.3 L563.3,488.3 L570.0,484.2 L575.0,481.7 L578.3,486.7 L585.0,490.8 L596.7,495.0 L600.0,500.8 L600.0,510.0 L593.3,513.3 L590.8,525.0 L586.7,540.0 L583.3,550.0 L578.3,556.7 L576.7,568.3 L573.3,580.0 L563.3,580.0 L564.2,566.7 L565.8,556.7 L560.0,550.0 L555.0,543.3 L548.3,540.0 L540.0,535.0 L535.8,525.0Z" fill="#FEE79B"/>
<path d="M566.0,554.0 L580.0,552.0 L592.0,560.0 L602.0,568.0 L606.0,570.0 L614.0,573.0 L623.0,572.0 L620.0,580.0 L616.0,588.0 L618.0,596.0 L618.0,606.0 L600.0,606.0 L590.0,600.0 L580.0,585.0 L570.0,590.0 L560.0,580.0 L564.0,576.0Z" fill="#FEE79B"/>
<path d="M590.0,600.0 L600.0,606.0 L602.0,598.0 L616.0,588.0 L618.0,596.0 L618.0,606.0 L614.0,610.0 L606.0,612.0 L600.0,606.0Z" fill="#FECE65"/>
<path d="M596.0,578.0 L606.0,576.0 L616.0,580.0 L615.0,587.0 L604.0,588.0 L597.0,585.0Z" fill="#FFFFE5"/>
<path d="M603.0,566.0 L610.0,558.0 L616.0,562.0 L624.0,566.0 L623.0,572.0 L614.0,573.0 L606.0,570.0Z" fill="#D9D9D9"/>
<path d="M540.0,586.0 L548.0,588.0 L552.0,597.0 L561.0,587.0 L560.0,580.0 L570.0,590.0 L580.0,585.0 L590.0,600.0 L584.0,610.0 L577.0,622.0 L578.0,640.0 L566.0,644.0 L556.0,648.0 L550.0,638.0 L544.0,628.0 L540.0,622.0 L536.0,600.0Z" fill="#FEAC3A"/>
<path d="M578.0,640.0 L584.0,632.0 L590.0,636.0 L600.0,640.0 L606.0,644.0 L602.0,656.0 L608.0,668.0 L604.0,678.0 L598.0,684.0 L594.0,680.0 L588.0,670.0 L582.0,664.0 L583.0,652.0Z" fill="#FECE65"/>
<path d="M546.0,686.0 L557.0,680.0 L558.0,673.0 L562.0,674.0 L563.0,682.0 L573.0,680.0 L576.0,674.0 L578.0,680.0 L579.0,688.0 L570.0,690.0 L562.0,692.0 L560.0,702.0 L556.0,704.0 L550.0,696.0Z" fill="#F68720"/>
<path d="M562.0,692.0 L570.0,690.0 L579.0,688.0 L588.0,692.0 L593.0,710.0 L592.0,716.0 L580.0,716.0 L570.0,718.0 L564.0,717.0 L556.0,714.0 L560.0,702.0Z" fill="#FFFFE5"/>
<path d="M588.0,688.0 L594.0,682.0 L604.0,684.0 L616.0,688.0 L624.0,690.0 L632.0,689.0 L634.0,698.0 L626.0,702.0 L620.0,706.0 L612.0,710.0 L606.0,716.0 L599.0,715.0 L595.0,720.0 L593.0,710.0 L588.0,696.0Z" fill="#D9D9D9"/>
<path d="M540.0,704.0 L550.0,696.0 L556.0,704.0 L556.0,714.0 L552.0,724.0 L540.0,721.0 L534.0,712.0Z" fill="#FEE79B"/>
<path d="M528.0,718.0 L540.0,721.0 L546.0,724.0 L552.0,723.0 L552.0,732.0 L556.0,742.0 L555.0,750.0 L544.0,750.0 L526.0,752.0Z" fill="#E1640E"/>
<path d="M608.0,636.0 L620.0,642.0 L628.0,640.0 L636.0,644.0 L638.0,652.0 L638.0,660.0 L640.0,668.0 L632.0,672.0 L628.0,677.0 L616.0,672.0 L606.0,678.0 L604.0,668.0 L608.0,660.0 L602.0,656.0 L606.0,644.0Z" fill="#D9D9D9"/>
<path d="M664.0,602.0 L672.0,594.0 L680.0,600.0 L688.0,606.0 L690.0,620.0 L684.0,628.0 L692.0,634.0 L692.0,648.0 L686.0,656.0 L678.0,662.0 L672.0,660.0 L668.0,652.0 L668.0,648.0 L660.0,644.0 L654.0,640.0 L660.0,630.0 L662.0,620.0 L664.0,610.0Z" fill="#D9D9D9"/>
<path d="M678.0,662.0 L686.0,656.0 L696.0,654.0 L698.0,664.0 L696.0,672.0 L704.0,678.0 L698.0,684.0 L694.0,690.0 L686.0,688.0 L682.0,680.0 L686.0,670.0 L680.0,668.0Z" fill="#D9D9D9"/>
<path d="M636.0,644.0 L644.0,646.0 L652.0,628.0 L654.0,620.0 L660.0,624.0 L660.0,630.0 L654.0,640.0 L660.0,644.0 L668.0,648.0 L668.0,652.0 L672.0,660.0 L664.0,666.0 L656.0,662.0 L652.0,659.0 L648.0,662.0 L640.0,668.0 L638.0,660.0 L638.0,652.0Z" fill="#FECE65"/>
<path d="M634.0,634.0 L640.0,624.0 L650.0,622.0 L652.0,628.0 L644.0,646.0 L636.0,644.0Z" fill="#FFFFE5"/>
<path d="M676.0,560.0 L686.0,556.0 L698.0,554.0 L706.0,546.0 L710.0,540.0 L714.0,540.0 L710.0,556.0 L712.0,570.0 L704.0,574.0 L712.0,576.0 L724.0,576.0 L726.0,582.0 L718.0,586.0 L710.0,588.0 L706.0,580.0 L698.0,576.0 L690.0,586.0 L688.0,592.0 L680.0,576.0Z" fill="#D9D9D9"/>
<path d="M668.0,562.0 L674.0,560.0 L676.0,570.0 L684.0,580.0 L688.0,592.0 L688.0,602.0 L684.0,606.0 L678.0,598.0 L672.0,592.0 L664.0,586.0 L668.0,576.0Z" fill="#FEAC3A"/>
<path d="M690.0,586.0 L698.0,576.0 L706.0,580.0 L710.0,588.0 L720.0,594.0 L716.0,602.0 L720.0,610.0 L716.0,616.0 L708.0,620.0 L700.0,630.0 L694.0,634.0 L684.0,628.0 L690.0,620.0 L688.0,606.0 L688.0,592.0Z" fill="#FFFFE5"/>
<path d="M712.0,570.0 L718.0,567.0 L730.0,570.0 L742.0,576.0 L742.0,586.0 L740.0,594.0 L730.0,597.0 L720.0,594.0 L718.0,586.0 L726.0,582.0 L724.0,576.0 L712.0,576.0Z" fill="#FECE65"/>
<path d="M716.0,602.0 L724.0,599.0 L740.0,594.0 L742.0,586.0 L742.0,579.0 L748.0,583.0 L755.0,587.0 L750.0,592.0 L748.0,600.0 L740.0,606.0 L732.0,609.0 L720.0,608.0Z" fill="#C04602"/>
<path d="M716.0,616.0 L720.0,610.0 L732.0,609.0 L740.0,606.0 L758.0,608.0 L756.0,618.0 L748.0,620.0 L740.0,628.0 L738.0,620.0 L728.0,618.0Z" fill="#FEAC3A"/>
<path d="M700.0,638.0 L706.0,626.0 L714.0,620.0 L718.0,616.0 L728.0,618.0 L738.0,620.0 L740.0,628.0 L732.0,630.0 L726.0,634.0 L720.0,642.0 L712.0,644.0 L706.0,650.0 L702.0,646.0Z" fill="#F68720"/>
<path d="M726.0,634.0 L732.0,630.0 L740.0,634.0 L742.0,644.0 L740.0,656.0 L736.0,664.0 L726.0,668.0 L722.0,660.0 L728.0,652.0 L724.0,644.0 L720.0,642.0Z" fill="#FFFFE5"/>
<path d="M698.0,652.0 L706.0,650.0 L712.0,644.0 L720.0,642.0 L724.0,644.0 L728.0,652.0 L722.0,660.0 L722.0,668.0 L716.0,678.0 L708.0,684.0 L704.0,678.0 L696.0,672.0 L698.0,664.0Z" fill="#FEE79B"/>
<path d="M710.0,686.0 L720.0,678.0 L724.0,670.0 L728.0,669.0 L729.0,678.0 L736.0,676.0 L740.0,682.0 L738.0,690.0 L732.0,696.0 L728.0,706.0 L724.0,716.0 L718.0,718.0 L714.0,708.0 L712.0,696.0Z" fill="#F68720"/>
<path d="M644.0,676.0 L652.0,668.0 L664.0,666.0 L672.0,660.0 L678.0,662.0 L680.0,668.0 L686.0,670.0 L682.0,680.0 L684.0,688.0 L678.0,692.0 L668.0,696.0 L658.0,698.0 L650.0,692.0 L646.0,686.0Z" fill="#FFFFE5"/>
<path d="M634.0,698.0 L650.0,692.0 L658.0,698.0 L668.0,696.0 L678.0,692.0 L686.0,688.0 L694.0,690.0 L698.0,684.0 L708.0,684.0 L712.0,696.0 L714.0,708.0 L708.0,714.0 L700.0,712.0 L696.0,720.0 L690.0,720.0 L678.0,722.0 L670.0,728.0 L666.0,720.0 L660.0,714.0 L654.0,706.0 L644.0,708.0Z" fill="#FEE79B"/>
<path d="M688.0,704.0 L698.0,698.0 L706.0,694.0 L712.0,700.0 L712.0,708.0 L704.0,710.0 L700.0,712.0 L694.0,714.0 L689.0,710.0Z" fill="#D9D9D9"/>
<path d="M670.0,728.0 L678.0,722.0 L690.0,720.0 L698.0,724.0 L696.0,732.0 L688.0,735.0 L678.0,737.0 L672.0,734.0Z" fill="#D9D9D9"/>
<path d="M639.0,722.0 L644.0,714.0 L648.0,706.0 L654.0,706.0 L660.0,714.0 L666.0,720.0 L668.0,728.0 L664.0,732.0 L660.0,742.0 L654.0,742.0 L649.0,737.0 L642.0,730.0Z" fill="#F68720"/>
<path d="M660.0,742.0 L664.0,732.0 L668.0,728.0 L672.0,734.0 L678.0,737.0 L670.0,743.0 L664.0,741.0Z" fill="#FEAC3A"/>
<path d="M681.0,737.0 L688.0,735.0 L696.0,733.0 L699.0,742.0 L689.0,746.0 L686.0,742.0Z" fill="#F68720"/>
<path d="M695.0,744.0 L700.0,741.0 L710.0,740.0 L711.0,745.0 L707.0,750.0 L710.0,756.0 L714.0,763.0 L710.0,770.0 L700.0,769.0 L698.0,760.0 L695.0,751.0Z" fill="#FECE65"/>
<path d="M726.0,726.0 L732.0,720.0 L738.0,716.0 L742.0,724.0 L744.0,732.0 L738.0,737.0 L730.0,738.0Z" fill="#FEAC3A"/>
<path d="M728.0,706.0 L738.0,702.0 L748.0,700.0 L752.0,706.0 L746.0,714.0 L738.0,716.0 L732.0,720.0 L724.0,716.0Z" fill="#FECE65"/>
<path d="M746.0,714.0 L752.0,706.0 L754.0,700.0 L759.0,710.0 L764.0,718.0 L767.0,724.0 L760.0,726.0 L756.0,718.0 L750.0,716.0Z" fill="#F68720"/>
<path d="M765.0,711.0 L770.0,709.0 L775.0,712.0 L774.0,718.0 L769.0,716.0Z" fill="#FEAC3A"/>
<path d="M758.0,725.0 L764.0,724.0 L766.0,730.0 L760.0,733.0Z" fill="#D9D9D9"/>
<path d="M767.0,618.0 L772.0,610.0 L777.0,614.0 L777.0,622.0 L774.0,630.0 L770.0,624.0Z" fill="#C04602"/>
<path d="M740.0,628.0 L748.0,620.0 L756.0,618.0 L766.0,620.0 L770.0,628.0 L773.0,644.0 L774.0,660.0 L760.0,664.0 L752.0,668.0 L742.0,664.0 L740.0,656.0 L742.0,644.0 L740.0,634.0Z" fill="#FEE79B"/>
<path d="M752.0,668.0 L760.0,664.0 L774.0,660.0 L780.0,664.0 L780.0,688.0 L770.0,692.0 L760.0,688.0 L754.0,680.0Z" fill="#FEE79B"/>
<path d="M690.0,500.0 L702.0,500.0 L706.0,512.0 L702.0,520.0 L710.0,530.0 L708.0,540.0 L718.0,532.0 L736.0,536.0 L738.0,540.0 L737.0,548.0 L742.0,558.0 L730.0,564.0 L712.0,569.0 L710.0,560.0 L702.0,556.0 L690.0,558.0Z" fill="#FFFFE5"/>
<path d="M690.0,558.0 L702.0,556.0 L708.0,540.0 L710.0,530.0 L718.0,532.0 L716.0,540.0 L710.0,550.0 L712.0,569.0 L700.0,580.0 L690.0,580.0 L684.0,570.0Z" fill="#D9D9D9"/>
<path d="M757.0,522.0 L768.0,520.0 L770.0,528.0 L776.0,536.0 L770.0,539.0 L760.0,538.0 L752.0,536.0 L756.0,530.0Z" fill="#F68720"/>
<path d="M738.0,540.0 L752.0,536.0 L760.0,538.0 L764.0,546.0 L758.0,554.0 L748.0,556.0 L742.0,558.0 L737.0,548.0Z" fill="#FEAC3A"/>
<path d="M760.0,538.0 L770.0,539.0 L776.0,536.0 L780.0,546.0 L776.0,556.0 L766.0,560.0 L758.0,554.0 L764.0,546.0Z" fill="#FEE79B"/>
<path d="M747.0,558.0 L753.0,556.4 L756.0,562.0 L752.0,566.0 L747.6,564.0Z" fill="#D9D9D9"/>
<path d="M780.0,546.0 L790.0,540.0 L802.0,542.0 L810.0,550.0 L812.0,570.0 L800.0,570.0 L796.0,562.0 L790.0,556.0 L785.0,560.0 L780.0,556.0Z" fill="#FEE79B"/>
<path d="M785.0,560.0 L790.0,556.0 L796.0,562.0 L800.0,570.0 L794.0,575.0 L786.0,572.0 L784.0,566.0Z" fill="#D9D9D9"/>
<path d="M767.0,572.0 L774.0,568.0 L784.0,569.0 L790.0,576.0 L786.0,580.0 L778.0,580.0 L772.0,586.0 L769.0,580.0Z" fill="#FECE65"/>
<path d="M810.0,518.0 L820.0,522.0 L826.0,534.0 L830.0,544.0 L828.0,558.0 L824.0,568.0 L812.0,570.0 L810.0,550.0 L806.0,536.0Z" fill="#FFFFE5"/>
<path d="M818.0,508.0 L830.0,500.0 L850.0,500.0 L858.0,510.0 L854.0,520.0 L856.0,526.0 L846.0,530.0 L844.0,538.0 L838.0,548.0 L832.0,546.0 L830.0,544.0 L826.0,534.0 L820.0,522.0Z" fill="#FEAC3A"/>
<path d="M792.0,504.0 L802.0,500.0 L818.0,500.0 L818.0,508.0 L810.0,518.0 L800.0,514.0Z" fill="#FECE65"/>
<path d="M845.0,532.0 L852.0,529.0 L860.0,536.0 L856.0,540.0 L848.0,539.0Z" fill="#D9D9D9"/>
<path d="M856.0,526.0 L854.0,520.0 L862.0,512.0 L868.0,516.0 L866.0,524.0 L864.0,534.0 L866.0,542.0 L860.0,536.0Z" fill="#FECE65"/>
<path d="M846.0,500.0 L896.0,500.0 L900.0,512.0 L890.0,514.0 L886.0,520.0 L892.0,526.0 L900.0,532.0 L902.0,540.0 L892.0,550.0 L882.0,548.0 L874.0,544.0 L866.0,542.0 L864.0,534.0 L866.0,524.0 L868.0,516.0 L858.0,510.0 L850.0,500.0Z" fill="#E1640E"/>
<path d="M866.0,532.0 L874.0,528.0 L884.0,530.0 L885.0,537.0 L878.0,542.0 L870.0,541.0Z" fill="#C04602"/>
<path d="M875.0,528.0 L882.0,527.0 L883.0,533.0 L877.0,535.0Z" fill="#933204"/>
<path d="M886.0,520.0 L890.0,514.0 L900.0,512.0 L910.0,522.0 L916.0,534.0 L920.0,546.0 L910.0,552.0 L902.0,550.0 L902.0,540.0 L900.0,532.0 L892.0,526.0Z" fill="#FEAC3A"/>
<path d="M854.0,580.0 L862.0,566.0 L870.0,560.0 L876.0,554.0 L888.0,552.0 L892.0,550.0 L902.0,550.0 L900.0,560.0 L908.0,568.0 L920.0,574.0 L919.0,588.0 L906.0,584.0 L902.0,576.0 L890.0,574.0 L878.0,578.0 L868.0,584.0 L858.0,584.0Z" fill="#FEAC3A"/>
<path d="M888.0,552.0 L892.0,550.0 L902.0,550.0 L900.0,560.0 L894.0,562.0 L888.0,558.0Z" fill="#F68720"/>
<path d="M871.0,558.0 L876.0,548.0 L886.0,546.0 L888.0,552.0 L888.0,558.0 L878.0,558.0Z" fill="#FECE65"/>
<path d="M878.0,568.0 L890.0,566.0 L900.0,568.0 L902.0,576.0 L890.0,574.0 L880.0,577.0Z" fill="#FEE79B"/>
<path d="M826.0,568.0 L830.0,558.0 L840.0,552.0 L848.0,554.0 L844.0,560.0 L838.0,566.0 L830.0,574.0 L823.0,577.0Z" fill="#FECE65"/>
<path d="M850.0,584.0 L858.0,584.0 L868.0,584.0 L878.0,578.0 L890.0,574.0 L902.0,576.0 L906.0,584.0 L919.0,588.0 L916.0,600.0 L908.0,608.0 L902.0,616.0 L892.0,624.0 L882.0,622.0 L874.0,618.0 L864.0,620.0 L860.0,606.0 L854.0,600.0 L850.0,590.0Z" fill="#FFFFE5"/>
<path d="M776.0,586.0 L790.0,576.0 L800.0,578.0 L812.0,572.0 L822.0,577.0 L830.0,574.0 L838.0,578.0 L848.0,584.0 L850.0,590.0 L854.0,600.0 L850.0,606.0 L838.0,610.0 L830.0,616.0 L820.0,608.0 L810.0,612.0 L802.0,616.0 L790.0,612.0 L780.0,612.0 L778.0,600.0Z" fill="#FFFFE5"/>
<path d="M829.0,576.0 L834.0,572.0 L839.0,578.0 L834.0,588.0 L830.0,592.0 L828.0,584.0Z" fill="#D9D9D9"/>
<path d="M824.0,600.0 L830.0,598.0 L834.0,606.0 L828.0,610.0 L823.0,606.0Z" fill="#D9D9D9"/>
<path d="M783.0,610.0 L790.0,607.0 L798.0,611.0 L792.0,616.0 L784.0,617.0Z" fill="#D9D9D9"/>
<path d="M774.0,620.0 L780.0,612.0 L790.0,612.0 L802.0,616.0 L810.0,612.0 L820.0,608.0 L830.0,616.0 L828.0,624.0 L820.0,632.0 L818.0,644.0 L812.0,654.0 L808.0,666.0 L808.0,672.0 L798.0,676.0 L786.0,678.0 L780.0,676.0 L786.0,666.0 L782.0,662.0 L774.0,660.0 L774.0,648.0 L776.0,640.0 L772.0,630.0Z" fill="#FEE79B"/>
<path d="M794.0,640.0 L802.0,632.0 L810.0,628.0 L818.0,644.0 L812.0,654.0 L808.0,666.0 L802.0,672.0 L794.0,668.0 L796.0,654.0Z" fill="#FFF7C0"/>
<path d="M768.0,616.0 L772.0,610.0 L778.0,615.0 L775.0,622.0 L773.0,629.0 L770.0,624.0Z" fill="#C04602"/>
<path d="M700.0,580.0 L710.0,576.0 L720.0,578.0 L726.0,580.0 L718.0,588.0 L708.0,590.0 L700.0,586.0Z" fill="#D9D9D9"/>
<path d="M712.0,569.0 L726.0,568.0 L740.0,576.0 L734.0,574.0 L726.0,580.0 L718.0,588.0 L714.0,580.0Z" fill="#FEE79B"/>
<path d="M718.0,588.0 L726.0,580.0 L734.0,574.0 L742.0,578.0 L744.0,584.0 L742.0,594.0 L730.0,598.0 L720.0,600.0Z" fill="#FECE65"/>
<path d="M716.0,602.0 L730.0,598.0 L742.0,594.0 L743.0,580.0 L754.0,587.0 L748.0,594.0 L748.0,600.0 L738.0,604.0 L730.0,608.0 L720.0,606.0Z" fill="#C04602"/>
<path d="M720.0,606.0 L730.0,608.0 L738.0,604.0 L748.0,600.0 L756.0,606.0 L758.0,616.0 L754.0,622.0 L740.0,624.0 L736.0,630.0 L726.0,634.0 L720.0,630.0 L724.0,620.0 L718.0,616.0Z" fill="#FEAC3A"/>
<path d="M700.0,638.0 L706.0,630.0 L714.0,620.0 L718.0,616.0 L724.0,620.0 L736.0,616.0 L740.0,624.0 L736.0,630.0 L726.0,634.0 L720.0,642.0 L712.0,644.0 L706.0,650.0Z" fill="#F68720"/>
<path d="M740.0,624.0 L754.0,622.0 L758.0,616.0 L766.0,620.0 L770.0,630.0 L774.0,648.0 L774.0,660.0 L768.0,664.0 L760.0,660.0 L754.0,666.0 L746.0,660.0 L744.0,648.0 L740.0,640.0 L738.0,632.0Z" fill="#FEE79B"/>
<path d="M758.0,616.0 L766.0,620.0 L770.0,630.0 L775.0,646.0 L770.0,648.0 L764.0,636.0 L760.0,628.0Z" fill="#FECE65"/>
<path d="M726.0,634.0 L736.0,630.0 L740.0,640.0 L744.0,648.0 L746.0,660.0 L740.0,670.0 L732.0,674.0 L728.0,666.0 L726.0,654.0 L724.0,644.0Z" fill="#FFFFE5"/>
<path d="M698.0,652.0 L706.0,650.0 L712.0,644.0 L720.0,642.0 L726.0,654.0 L728.0,666.0 L722.0,672.0 L712.0,680.0 L702.0,678.0 L696.0,668.0Z" fill="#FEE79B"/>
<path d="M686.0,652.0 L698.0,652.0 L696.0,668.0 L700.0,680.0 L694.0,690.0 L686.0,692.0Z" fill="#D9D9D9"/>
<path d="M686.0,700.0 L702.0,696.0 L710.0,702.0 L708.0,712.0 L698.0,718.0 L686.0,720.0Z" fill="#D9D9D9"/>
<path d="M710.0,688.0 L720.0,682.0 L723.0,670.0 L728.0,670.0 L730.0,678.0 L738.0,680.0 L739.0,686.0 L734.0,694.0 L730.0,704.0 L728.0,714.0 L720.0,719.0 L716.0,712.0 L714.0,700.0Z" fill="#F68720"/>
<path d="M756.0,666.0 L760.0,660.0 L768.0,664.0 L774.0,660.0 L782.0,662.0 L786.0,666.0 L780.0,676.0 L778.0,680.0 L770.0,688.0 L768.0,698.0 L760.0,700.0 L750.0,694.0 L748.0,684.0 L754.0,676.0Z" fill="#FEE79B"/>
<path d="M740.0,674.0 L754.0,666.0 L754.0,676.0 L748.0,684.0 L750.0,694.0 L760.0,700.0 L768.0,698.0 L772.0,706.0 L766.0,712.0 L756.0,706.0 L746.0,700.0 L738.0,686.0Z" fill="#FFFFE5"/>
<path d="M730.0,704.0 L734.0,694.0 L746.0,700.0 L756.0,706.0 L752.0,714.0 L742.0,720.0 L738.0,728.0 L730.0,732.0 L726.0,726.0 L728.0,714.0Z" fill="#FEE79B"/>
<path d="M726.0,726.0 L738.0,728.0 L744.0,736.0 L740.0,742.0 L724.0,742.0Z" fill="#FECE65"/>
<path d="M752.0,702.0 L756.0,700.0 L760.0,710.0 L766.0,720.0 L768.0,724.0 L762.0,725.0 L756.0,716.0 L748.0,718.0 L746.0,716.0 L752.0,712.0Z" fill="#F68720"/>
<path d="M766.0,710.0 L772.0,709.0 L778.0,713.0 L776.0,718.0 L770.0,715.0Z" fill="#FEAC3A"/>
<path d="M757.0,726.0 L764.0,725.0 L766.0,732.0 L759.0,734.0Z" fill="#D9D9D9"/>
<path d="M810.0,672.0 L812.0,654.0 L820.0,640.0 L820.0,632.0 L830.0,628.0 L840.0,630.0 L850.0,640.0 L856.0,648.0 L850.0,656.0 L842.0,660.0 L834.0,670.0 L828.0,676.0 L818.0,674.0Z" fill="#FEE79B"/>
<path d="M828.0,676.0 L834.0,670.0 L842.0,660.0 L850.0,656.0 L856.0,660.0 L862.0,666.0 L856.0,672.0 L848.0,680.0 L840.0,690.0 L830.0,700.0 L827.0,688.0Z" fill="#FFFFE5"/>
<path d="M780.0,680.0 L786.0,678.0 L798.0,676.0 L808.0,672.0 L818.0,674.0 L828.0,676.0 L827.0,688.0 L830.0,700.0 L820.0,708.0 L810.0,714.0 L798.0,718.0 L788.0,710.0 L780.0,700.0 L776.0,690.0Z" fill="#FFFFE5"/>
<path d="M819.0,691.0 L826.0,690.0 L828.0,700.0 L821.0,702.0Z" fill="#FEE79B"/>
<path d="M844.0,674.0 L850.0,673.0 L852.0,679.0 L846.0,681.0Z" fill="#D9D9D9"/>
<path d="M854.0,658.0 L862.0,656.0 L866.0,662.0 L860.0,666.0 L855.0,664.0Z" fill="#FEE79B"/>
<path d="M628.0,500.0 L640.0,492.0 L660.0,492.0 L676.0,496.0 L692.0,504.0 L704.0,510.0 L706.0,516.0 L696.0,518.0 L696.0,532.0 L690.0,532.0 L680.0,526.0 L672.0,524.0 L664.0,522.0 L654.0,518.0 L646.0,514.0 L636.0,510.0 L629.0,508.0Z" fill="#FFFFE5"/>
<path d="M674.0,528.0 L680.0,526.0 L690.0,532.0 L700.0,536.0 L706.0,542.0 L704.0,550.0 L698.0,554.0 L688.0,558.0 L678.0,558.0 L672.0,560.0 L660.0,552.0 L668.0,540.0 L676.0,534.0Z" fill="#FFFFE5"/>
<path d="M696.0,518.0 L706.0,516.0 L720.0,518.0 L730.0,516.0 L740.0,520.0 L756.0,524.0 L752.0,534.0 L740.0,538.0 L736.0,544.0 L740.0,556.0 L732.0,564.0 L720.0,568.0 L712.0,568.0 L708.0,560.0 L708.0,550.0 L712.0,540.0 L718.0,534.0 L706.0,532.0 L704.0,538.0 L696.0,532.0Z" fill="#FFFFE5"/>
<path d="M706.0,534.0 L714.0,531.0 L718.0,536.0 L712.0,542.0 L709.0,548.0 L705.0,544.0Z" fill="#D9D9D9"/>
<path d="M676.0,560.0 L688.0,558.0 L698.0,554.0 L706.0,556.0 L710.0,568.0 L708.0,574.0 L698.0,574.0 L692.0,578.0 L690.0,584.0 L688.0,592.0 L680.0,586.0 L676.0,574.0 L674.0,566.0Z" fill="#D9D9D9"/>
<path d="M698.0,575.0 L708.0,574.0 L720.0,575.0 L726.0,578.0 L722.0,586.0 L712.0,590.0 L704.0,586.0 L700.0,580.0Z" fill="#D9D9D9"/>
<path d="M666.0,564.0 L669.0,560.0 L675.0,560.0 L676.0,572.0 L672.0,574.0 L667.0,571.0Z" fill="#FECE65"/>
<path d="M664.0,584.0 L668.0,574.0 L676.0,572.0 L684.0,580.0 L688.0,590.0 L688.0,600.0 L684.0,605.0 L676.0,596.0 L672.0,590.0 L665.0,586.0Z" fill="#FEAC3A"/>
<path d="M620.0,578.0 L626.0,562.0 L640.0,563.0 L648.0,568.0 L650.0,580.0 L644.0,586.0 L636.0,594.0 L628.0,590.0 L622.0,584.0Z" fill="#FEE79B"/>
<path d="M638.0,532.0 L644.0,518.0 L654.0,518.0 L664.0,522.0 L672.0,524.0 L675.0,534.0 L668.0,540.0 L660.0,548.0 L648.0,544.0 L640.0,540.0Z" fill="#FEE79B"/>
<path d="M640.0,468.0 L660.0,466.0 L664.0,480.0 L676.0,478.0 L690.0,474.0 L692.0,480.0 L680.0,488.0 L664.0,492.0 L650.0,490.0 L642.0,480.0Z" fill="#FEE79B"/>
<path d="M662.0,486.0 L666.0,482.0 L676.0,480.0 L684.0,476.0 L690.0,473.0 L698.0,480.0 L692.0,484.0 L680.0,488.0 L668.0,492.0Z" fill="#FECE65"/>
<path d="M712.0,426.0 L720.0,422.0 L736.0,424.0 L748.0,420.0 L768.0,420.0 L770.0,438.0 L764.0,452.0 L752.0,460.0 L740.0,462.0 L736.0,456.0 L724.0,452.0 L714.0,454.0 L710.0,440.0Z" fill="#FEE79B"/>
<path d="M740.0,432.0 L752.0,428.0 L762.0,434.0 L758.0,446.0 L746.0,444.0Z" fill="#FFF7C0"/>
<path d="M708.0,470.0 L712.0,454.0 L724.0,452.0 L734.0,454.0 L738.0,462.0 L730.0,468.0 L718.0,472.0Z" fill="#FFFFE5"/>
<path d="M739.0,462.4 L750.0,461.0 L751.0,466.0 L744.0,468.0 L740.0,466.4Z" fill="#F68720"/>
<path d="M744.0,486.0 L752.0,480.0 L768.0,482.0 L780.0,486.0 L790.0,496.0 L788.0,508.0 L776.0,514.0 L760.0,516.0 L752.0,506.0 L746.0,496.0Z" fill="#FFFFE5"/>
<path d="M752.0,534.0 L758.0,524.0 L762.0,520.0 L769.0,521.0 L775.0,534.0 L768.0,540.0 L760.0,540.0Z" fill="#F68720"/>
<path d="M738.0,540.0 L752.0,536.0 L760.0,540.0 L764.0,546.0 L760.0,554.0 L748.0,560.0 L740.0,554.0 L737.0,546.0Z" fill="#FEAC3A"/>
<path d="M748.0,558.0 L754.0,556.0 L757.0,562.0 L752.0,566.0 L748.0,563.0Z" fill="#D9D9D9"/>
<path d="M768.0,572.0 L780.0,568.0 L790.0,574.0 L786.0,584.0 L772.0,586.0Z" fill="#FEE79B"/>
<path d="M782.0,608.0 L790.0,606.0 L794.0,612.0 L790.0,618.0 L783.0,616.0Z" fill="#D9D9D9"/>
<path d="M580.0,520.0 L592.0,508.0 L602.0,508.0 L606.0,520.0 L604.0,536.0 L600.0,556.0 L590.0,548.0 L580.0,540.0Z" fill="#FEE79B"/>
<path d="M610.0,520.0 L620.0,514.0 L626.0,524.0 L628.0,540.0 L622.0,556.0 L612.0,560.0 L608.0,544.0Z" fill="#FFFFE5"/>
<path d="M603.0,566.0 L612.0,557.0 L624.0,562.0 L623.0,572.0 L612.0,574.0Z" fill="#D9D9D9"/>
<path d="M596.0,578.0 L606.0,576.0 L612.0,582.0 L610.0,590.0 L600.0,592.0Z" fill="#FFFFE5"/>
<path d="M594.0,600.0 L600.0,596.0 L612.0,600.0 L618.0,608.0 L610.0,612.0 L600.0,610.0Z" fill="#FECE65"/>
<path d="M636.0,646.0 L644.0,630.0 L654.0,620.0 L660.0,626.0 L660.0,640.0 L664.0,660.0 L636.0,660.0Z" fill="#FECE65"/>
<path d="M633.0,630.0 L640.0,624.0 L648.0,628.0 L646.0,638.0 L636.0,640.0Z" fill="#FFFFE5"/>
<path d="M511.7,621.7 L515.0,618.3 L521.7,630.0 L526.7,620.0 L530.0,613.3 L535.8,611.7 L543.3,626.7 L550.0,636.7 L551.7,643.3 L543.3,643.3 L533.3,648.3 L530.0,638.3 L516.7,636.7Z" fill="#FECE65"/>
<path d="M503.3,653.3 L510.0,643.3 L516.7,636.7 L530.0,638.3 L533.3,648.3 L540.0,650.0 L538.3,663.3 L533.3,675.0 L526.7,676.7 L523.3,668.3 L511.7,663.3 L505.0,658.3Z" fill="#FFFFE5"/>
<path d="M506.7,728.3 L515.0,710.0 L525.0,705.0 L530.0,693.3 L531.7,676.7 L538.3,676.7 L546.7,686.7 L553.3,700.0 L560.0,706.7 L555.0,713.3 L561.7,720.0 L553.3,723.3 L550.0,726.7 L546.7,720.8 L536.7,720.0 L528.3,725.0 L521.7,731.7Z" fill="#FEE79B"/>
<path d="M521.7,731.7 L528.3,725.0 L536.7,720.0 L546.7,720.8 L550.8,726.7 L554.2,736.7 L556.7,750.0 L544.2,750.8 L542.5,740.8 L538.3,737.5 L533.3,742.5 L526.7,743.3 L520.8,737.5Z" fill="#E1640E"/>
<path d="M556.7,708.3 L563.3,703.3 L561.7,693.3 L570.0,691.7 L576.7,688.3 L578.3,680.0 L586.7,676.7 L593.3,680.0 L586.7,688.3 L591.7,705.0 L593.3,716.7 L588.3,718.3 L583.3,716.7 L576.7,721.7 L566.7,718.3 L560.0,720.0Z" fill="#FFFFE5"/>
<path d="M847.0,485.0 L856.0,483.5 L857.5,477.5 L853.8,474.5 L862.0,467.0 L868.0,464.8 L871.8,470.8 L888.2,479.8 L892.8,491.0 L898.8,503.0 L901.0,513.5 L893.5,515.0 L886.0,514.2 L887.5,524.0 L890.5,530.0 L892.0,536.0 L889.0,540.5 L884.5,543.5 L878.5,543.5 L872.5,545.0 L868.0,542.0 L866.5,536.0 L863.5,528.5 L865.0,518.0 L859.0,513.5 L856.0,510.5 L851.5,507.5 L850.0,503.0 L845.5,501.5 L848.5,494.0 L850.0,489.5Z" fill="#E1640E"/>
<path d="M866.5,501.5 L874.0,499.2 L878.5,512.0 L880.0,518.0 L878.5,525.5 L871.0,530.0 L865.0,528.5 L865.0,518.0 L868.0,510.5Z" fill="#F68720"/>
<path d="M866.5,536.0 L869.5,531.5 L875.5,530.0 L878.5,527.0 L884.5,531.5 L883.0,536.0 L878.5,537.5 L874.0,540.5 L869.5,540.5Z" fill="#C04602"/>
<path d="M877.0,527.8 L881.5,528.5 L882.2,533.0 L878.5,533.8Z" fill="#933204"/>
<path d="M701.7,735.0 L706.7,735.8 L710.0,740.0 L713.3,743.3 L718.3,744.2 L720.0,746.7 L714.2,770.0 L697.5,770.0 L695.0,751.7 L697.5,744.2 L699.2,740.8Z" fill="#FECE65"/>
<path d="M725.0,730.0 L729.2,725.0 L733.3,720.0 L737.5,720.0 L740.0,726.7 L743.3,734.2 L742.5,736.7 L738.3,740.8 L733.3,742.5 L729.2,743.3 L726.7,740.0 L725.8,735.0Z" fill="#FEAC3A"/>
<path d="M681.2,737.9 L685.0,735.8 L690.8,734.6 L696.7,734.2 L697.1,737.9 L696.7,740.8 L697.9,742.5 L697.5,745.0 L686.7,745.0 L685.8,740.4Z" fill="#F68720"/>
</g>
<g fill="none" stroke="#5c5c5c" stroke-width="1.05" stroke-linejoin="round">
<path d="M47.5,377.5 L53.8,372.5 L55.0,363.8 L70.0,356.2 L83.8,351.2 L87.5,357.5 L100.0,357.5 L103.8,350.0 L110.0,342.5 L125.0,343.8 L130.0,337.5 L150.0,328.8 L167.5,322.5 L167.5,307.5 L177.5,300.0 L177.5,292.5 L172.5,282.5 L170.0,270.0 L162.5,263.8 L180.0,260.0 L195.0,255.0 L208.8,257.5 L205.0,252.5 L205.0,246.2 L210.0,237.5 L216.2,221.2 L220.0,217.0 L235.0,221.2 L253.8,222.5 L265.0,216.2 L263.8,203.8 L266.2,193.8 L283.8,187.5 L285.0,181.2 L291.2,176.2 L305.0,178.8 L306.2,187.5 L320.0,191.2 L330.0,201.2 L345.0,203.8 L352.5,212.5 L361.2,225.0 L361.2,240.0 L355.0,250.0 L357.5,257.5 L380.0,260.0 L405.0,262.5 L427.5,275.0 L440.0,277.5 L445.0,290.0 L457.5,307.5 L472.5,307.5 L515.0,311.2 L530.0,308.8 L555.0,313.8 L560.0,320.0 L580.0,322.5 L590.0,327.5 L603.8,326.2 L607.5,331.2 L615.0,328.8 L630.0,322.5 L655.0,315.0 L695.0,313.8 L710.0,308.8 L720.0,298.8 L737.5,287.5 L736.2,282.5 L727.5,272.5 L731.2,266.2 L738.8,260.0 L762.5,267.5 L780.0,258.8 L787.5,253.8 L805.0,251.2 L815.0,242.5 L825.0,235.0 L837.5,230.0 L862.5,225.0 L873.8,228.8 L880.0,225.0 L876.2,216.2 L863.8,206.2 L855.0,201.2 L842.5,201.2 L835.0,207.5 L827.5,203.8 L815.0,203.8 L810.0,207.5 L802.5,201.2 L801.2,197.5 L807.5,191.2 L822.5,162.5 L842.5,170.0 L868.8,158.8 L867.5,152.5 L868.3,151.7 L875.0,140.0 L880.0,127.5 L892.5,120.0 L896.2,115.0 L895.0,107.5 L882.5,105.0 L887.5,100.0 L897.5,93.8 L912.5,91.2 L942.5,87.5 L955.0,90.0 L967.5,95.0 L980.0,96.2 L991.2,103.8 L998.8,115.0 L1001.2,126.2 L1007.5,133.8 L1008.8,142.5 L1015.0,152.5 L1018.8,163.8 L1026.2,168.8 L1040.0,168.8 L1046.2,173.8 L1055.0,175.0 L1065.0,182.5 L1072.5,183.8 L1072.5,192.5 L1076.2,195.0 L1073.8,200.0 L1077.5,205.0 L1087.5,207.5 L1103.8,207.5 L1112.5,202.5 L1127.5,196.2 L1145.0,193.0 L1152.5,192.5 L1146.2,200.0 L1147.5,207.5 L1141.2,212.5 L1135.0,227.5 L1131.2,231.2 L1130.0,240.0 L1123.8,247.5 L1117.5,252.5 L1116.2,261.2 L1105.0,257.5 L1095.0,255.0 L1082.5,263.8 L1083.8,275.0 L1085.0,293.8 L1082.5,302.5 L1075.0,305.0 L1072.5,315.0 L1066.2,307.5 L1060.0,305.0 L1055.0,315.0 L1042.5,322.5 L1030.0,322.5 L1027.5,330.0 L1030.0,335.0 L1020.0,332.5 L1010.0,332.5 L1005.0,340.0 L995.0,340.0 L985.0,346.2 L975.0,352.5 L962.5,358.8 L955.0,365.0 L942.5,371.2 L930.0,375.0 L917.5,380.0 L910.0,386.0 L902.0,390.0 L901.0,387.0 L908.0,383.0 L912.0,379.0 L905.0,377.0 L904.0,373.0 L910.0,368.0 L916.0,363.0 L920.0,358.0 L922.0,353.0 L918.0,349.0 L912.0,347.0 L904.0,348.0 L898.0,352.0 L892.0,356.0 L888.0,361.0 L880.0,364.0 L874.0,368.0 L868.0,378.0 L864.0,383.0 L856.0,386.0 L849.0,383.0 L844.0,384.0 L840.0,392.0 L844.0,398.0 L852.0,401.0 L862.0,403.0 L868.0,409.0 L864.0,414.0 L864.0,418.0 L870.0,423.0 L878.0,420.0 L888.0,412.0 L896.0,410.0 L904.0,414.0 L918.0,416.0 L930.0,418.0 L928.0,428.0 L920.0,430.0 L910.0,430.0 L900.0,434.0 L892.0,442.0 L884.0,448.0 L878.0,456.0 L870.0,464.0 L867.0,468.0 L872.0,472.0 L888.0,480.0 L892.0,490.0 L898.0,504.0 L900.0,514.0 L908.0,522.0 L916.0,532.0 L918.0,542.0 L918.0,552.0 L910.0,556.0 L904.0,556.0 L900.0,560.0 L908.0,564.0 L916.0,570.0 L918.8,572.5 L917.5,585.0 L915.0,597.5 L912.5,600.0 L905.0,610.0 L895.0,620.0 L888.8,626.2 L883.8,635.0 L877.5,638.8 L876.2,647.5 L876.2,657.5 L870.0,665.0 L860.0,671.2 L852.5,680.0 L845.0,687.5 L835.0,696.2 L827.5,702.5 L820.0,710.0 L810.0,713.8 L800.0,717.5 L790.0,717.5 L780.0,723.0 L773.0,729.0 L768.0,728.0 L760.0,732.0 L757.5,732.5 L754.2,736.2 L750.8,739.2 L746.7,738.8 L743.3,737.5 L740.0,737.1 L737.5,739.6 L733.3,740.8 L729.2,742.1 L725.0,743.3 L721.7,743.8 L718.3,744.2 L715.0,745.8 L713.3,747.5 L711.7,748.3 L708.8,749.2 L706.2,751.7 L705.4,754.6 L707.9,755.8 L710.0,759.2 L711.7,762.5 L712.5,765.4 L710.0,767.1 L705.0,768.3 L700.4,768.3 L700.8,765.4 L700.0,762.5 L698.8,759.2 L697.1,755.0 L696.7,750.8 L698.3,747.5 L699.2,744.2 L696.7,742.1 L693.3,742.9 L686.7,742.9 L685.0,740.4 L680.8,738.8 L676.7,738.8 L672.5,740.4 L669.2,742.1 L665.8,741.7 L663.3,740.4 L660.0,739.6 L656.0,740.0 L649.0,735.0 L644.0,729.0 L641.0,722.0 L644.0,715.0 L638.0,714.0 L630.0,712.0 L624.0,710.0 L622.0,704.0 L618.0,706.0 L612.0,710.0 L606.0,716.0 L599.0,715.0 L595.0,721.0 L589.0,716.0 L587.0,720.0 L580.0,716.0 L577.0,722.0 L570.0,718.0 L564.0,717.0 L558.0,722.0 L552.0,724.0 L552.0,732.0 L555.0,742.0 L554.0,749.0 L544.0,748.0 L540.0,740.0 L540.0,741.2 L530.0,742.5 L522.5,738.8 L520.0,731.2 L508.8,728.8 L511.2,721.2 L512.5,711.2 L503.8,707.5 L501.2,697.5 L500.0,688.8 L485.0,691.2 L480.0,692.5 L478.8,683.8 L480.0,676.2 L482.5,667.5 L490.0,662.5 L496.2,653.8 L500.0,645.0 L500.0,632.5 L498.8,618.8 L491.2,615.0 L490.0,605.0 L485.0,602.5 L480.0,598.8 L475.0,607.5 L470.0,613.8 L457.5,606.2 L447.5,603.8 L432.5,613.8 L417.5,620.0 L410.0,631.2 L381.2,632.5 L381.7,631.7 L380.0,626.7 L373.3,620.0 L370.0,608.3 L360.0,610.0 L346.7,605.0 L336.7,606.7 L328.3,616.7 L325.0,625.0 L323.3,616.7 L316.7,608.3 L306.7,611.7 L293.3,613.3 L280.0,608.3 L271.7,610.0 L266.7,603.3 L256.7,601.7 L253.3,596.7 L243.3,595.0 L238.3,586.7 L230.0,583.3 L223.3,578.3 L210.0,570.0 L201.7,563.3 L191.7,560.0 L186.7,566.7 L185.0,563.3 L176.7,560.0 L168.3,556.7 L160.0,550.0 L148.3,546.7 L141.7,540.0 L138.3,526.7 L135.0,516.7 L140.0,515.0 L145.0,520.0 L150.0,515.0 L148.3,506.7 L143.3,500.0 L140.0,488.3 L145.0,483.3 L143.3,478.3 L131.7,470.0 L128.3,456.7 L110.0,453.3 L93.3,448.3 L90.0,436.7 L80.0,428.3 L65.0,421.7 L75.0,420.0 L73.3,408.3 L70.0,395.0 L53.3,391.7 L48.3,375.0Z"/>
<path d="M909.7,664.2 L913.3,666.7 L918.0,670.8 L915.8,675.0 L915.8,681.7 L913.3,690.0 L910.8,700.0 L908.3,708.3 L905.8,715.0 L901.7,720.0 L899.2,724.2 L898.3,731.7 L896.7,734.7 L894.2,732.5 L893.3,725.8 L889.2,724.2 L885.8,718.3 L883.3,710.8 L883.3,700.0 L887.5,691.7 L891.7,683.3 L896.7,675.0 L901.7,669.2 L906.7,666.7Z"/>
<path d="M677.9,785.8 L680.4,784.2 L684.2,781.2 L687.5,778.3 L688.8,775.0 L692.5,774.6 L695.8,772.5 L700.0,772.9 L704.2,772.1 L707.5,770.0 L711.7,770.8 L714.6,769.2 L717.5,772.1 L720.0,772.5 L720.4,776.7 L721.7,780.0 L719.6,782.1 L717.5,784.6 L715.0,786.7 L713.8,790.8 L712.9,795.8 L712.5,798.3 L710.0,799.2 L707.5,801.2 L704.2,802.9 L702.5,805.8 L699.2,807.1 L696.7,810.4 L694.2,811.2 L690.8,809.6 L686.7,807.9 L682.5,805.8 L679.2,805.0 L677.5,802.5 L677.9,799.2 L677.1,795.0 L677.5,790.0Z"/>
<path d="M689.5,850.0 L696.2,860.0 L699.5,872.5"/>
<path d="M145.0,478.3 L161.7,475.0 L170.0,458.3 L190.0,461.7 L210.0,451.7 L220.0,458.3 L236.7,458.3 L251.7,451.7 L263.3,451.7 L275.0,443.3 L296.7,438.3 L316.7,436.7 L331.7,445.0 L343.3,441.7 L361.7,443.3"/>
<path d="M362.5,443.8 L356.2,432.5 L366.2,425.0 L363.8,417.5 L355.0,410.0 L353.8,400.0 L346.2,397.5 L386.2,383.8"/>
<path d="M386.2,383.8 L392.5,370.0 L396.2,352.5 L411.2,346.2 L420.0,336.2 L432.5,328.8 L437.5,331.2 L453.8,323.8 L451.2,313.8 L457.5,307.5"/>
<path d="M386.2,383.8 L397.5,381.2 L402.5,386.2 L411.2,390.0 L421.2,390.0 L425.0,397.5 L437.5,396.2 L455.0,401.2 L466.2,392.5 L468.8,381.2 L490.0,388.8 L501.2,383.8 L522.5,397.5 L537.5,402.5 L560.0,412.5 L560.8,413.3 L568.3,423.3 L571.7,433.3 L577.5,441.7 L573.3,446.7 L571.7,453.3 L566.7,455.0 L564.2,458.3 L565.0,463.3 L558.3,470.0 L557.5,475.0 L564.2,478.3 L559.2,480.0 L538.3,480.0 L536.7,483.3 L543.3,491.7 L544.2,495.0 L555.0,496.7 L556.7,500.0 L553.3,502.5 L558.3,503.3"/>
<path d="M472.5,307.5 L483.8,330.0 L480.0,333.8 L492.5,347.5 L493.8,352.5 L502.5,348.8 L525.0,346.2 L527.5,351.2 L523.8,358.8 L513.8,366.2 L520.0,367.5 L537.5,376.2 L538.8,383.8 L553.8,391.2 L557.5,383.8 L580.0,378.8 L595.0,375.0 L598.8,383.8 L587.5,396.2 L583.8,406.2 L601.2,416.2 L625.0,411.2"/>
<path d="M333.8,446.2 L338.8,451.2 L335.0,460.0 L336.2,467.5 L338.8,485.0 L345.0,497.5 L357.5,503.8 L375.0,507.5 L390.0,511.2 L397.5,512.5 L407.5,515.0 L416.2,517.5 L425.0,515.0 L435.0,518.8 L438.8,523.8 L442.5,531.2 L450.0,531.2 L455.0,535.0 L461.2,530.0 L467.5,531.2 L471.2,522.5 L476.2,516.2 L476.2,511.2"/>
<path d="M333.8,446.2 L345.0,442.5 L352.5,437.5 L360.0,435.0"/>
<path d="M476.2,511.2 L485.0,517.5 L492.5,522.5 L501.2,540.0 L498.8,545.0 L505.0,560.0 L506.2,587.5 L498.8,590.0 L500.0,600.0 L492.5,601.2 L495.0,612.5 L498.8,617.5 L500.0,640.0 L497.5,652.5 L490.0,660.0 L482.5,670.0 L478.8,682.5 L480.0,692.5"/>
<path d="M480.0,487.5 L490.0,483.8 L495.0,487.5 L498.8,496.2 L506.2,505.0 L515.0,511.2 L520.0,508.8 L526.2,513.8 L532.5,517.5 L540.0,513.8 L545.0,505.0 L555.0,502.5"/>
<path d="M659.0,408.0 L668.0,412.0 L680.0,411.0 L682.0,404.0 L686.0,402.0 L688.0,394.0 L700.0,380.0 L706.0,376.0 L720.0,375.0 L724.0,376.0 L729.0,372.0 L738.0,370.0 L742.0,362.0 L746.0,359.0 L756.0,358.0 L768.0,356.0 L774.0,354.0 L775.0,361.0 L782.0,358.0 L778.0,348.0 L772.0,343.0 L774.0,333.0 L780.0,324.0 L786.0,321.0 L791.0,322.0 L792.0,332.0 L801.0,330.0 L809.0,326.0 L826.0,316.0 L836.0,312.0 L846.0,313.0 L852.0,324.0 L850.0,330.0 L853.0,337.0 L860.0,337.0"/>
<path d="M724.0,376.0 L719.0,386.0 L718.0,396.0 L712.0,402.0 L715.0,414.0 L709.0,428.0 L712.0,440.0 L713.0,452.0 L708.0,462.0 L707.0,474.0 L714.0,488.0 L720.0,502.0"/>
<path d="M775.0,361.0 L778.0,366.0 L782.0,374.0 L780.0,380.0 L770.0,384.0 L767.0,398.0 L774.0,408.0 L776.0,414.0 L766.0,432.0 L770.0,440.0 L766.0,452.0 L760.0,458.0 L744.0,462.0 L732.0,466.0 L720.0,471.0 L708.0,474.0"/>
<path d="M770.0,440.0 L792.0,444.0 L798.0,443.0 L798.0,430.0 L812.0,418.0 L824.0,406.0 L840.0,400.0 L846.0,394.0"/>
<path d="M792.0,444.0 L790.0,462.0 L789.0,466.0"/>
<path d="M659.0,408.0 L654.0,417.0 L653.0,425.0 L655.0,426.4"/>
<path d="M640.0,465.0 L639.0,472.0 L637.0,476.0 L642.0,480.0"/>
<path d="M801.0,363.0 L806.0,353.0 L818.0,348.0 L822.0,344.0 L836.0,350.0 L834.0,354.0 L832.0,360.0 L831.0,370.0 L824.0,374.0 L818.0,375.0 L810.0,373.0 L801.0,370.0Z"/>
<path d="M831.0,370.0 L832.0,360.0 L838.0,364.0 L842.0,368.0 L846.0,376.0 L842.0,384.0 L846.0,394.0 L840.0,394.0 L832.0,390.0 L824.0,388.0 L824.0,374.0"/>
<path d="M788.5,465.5 L797.5,455.0 L811.0,444.5"/>
<path d="M788.5,465.5 L793.0,468.5 L800.5,474.5 L812.5,476.0 L817.8,470.0 L824.5,468.5 L829.0,474.5 L832.0,477.5 L841.0,474.5 L847.0,473.8 L850.0,477.5 L853.8,474.5 L862.0,467.0 L868.0,465.5"/>
<path d="M812.5,476.0 L820.0,480.5 L821.5,485.0 L812.5,489.5 L803.5,486.5 L802.0,497.0 L797.5,503.0 L790.8,506.0 L796.0,515.0 L808.0,518.0 L808.0,530.0 L799.0,537.5 L811.0,548.0 L806.5,555.5 L811.0,564.5 L812.5,572.0"/>
<path d="M832.0,477.5 L841.0,486.5 L848.5,492.5 L845.5,501.5 L850.0,503.0 L851.5,507.5 L856.0,513.5 L863.5,509.0 L868.0,512.0 L865.0,518.0 L857.5,518.0 L856.0,525.5 L853.0,530.0 L859.0,536.0 L866.5,542.0 L875.5,546.5 L871.0,555.5 L862.0,563.0 L863.5,567.5 L850.0,579.5"/>
<path d="M875.5,546.5 L884.5,543.5 L890.5,551.0 L897.2,548.0 L901.0,542.0 L904.0,539.0"/>
<path d="M897.2,548.0 L899.5,551.0 L904.0,555.5"/>
<path d="M773.0,590.0 L778.0,598.0 L776.0,608.0 L770.0,614.0 L768.0,620.0 L772.0,628.0 L772.0,638.0 L776.0,644.0 L773.0,654.0 L773.0,662.0"/>
<path d="M773.0,590.0 L786.0,582.0 L798.0,576.0 L810.0,572.0 L820.0,570.0 L826.0,573.0 L832.0,571.0 L838.0,576.0 L848.0,582.0 L850.0,590.0 L854.0,598.0 L855.0,605.0 L844.0,610.0 L834.0,614.0 L830.0,620.0 L828.0,626.0 L820.0,632.0 L818.0,644.0 L812.0,656.0 L808.0,668.0 L808.0,674.0"/>
<path d="M855.0,605.0 L860.0,608.0 L864.0,618.0 L874.0,617.0 L878.0,622.0 L890.0,624.0"/>
<path d="M773.0,662.0 L760.0,661.0 L754.0,665.0 L756.0,670.0 L742.0,668.0 L738.0,676.0 L740.0,680.0 L732.0,696.0 L726.0,704.0 L728.0,714.0 L716.0,720.0 L714.0,728.0 L708.0,730.0 L709.0,734.0 L702.0,735.0 L698.0,740.0"/>
<path d="M773.0,662.0 L780.0,664.0 L788.0,666.0 L786.0,672.0 L780.0,676.0 L780.0,680.0 L792.0,678.0 L802.0,675.0 L808.0,674.0 L818.0,676.0 L826.0,680.0 L828.0,690.0 L830.0,698.0"/>
<path d="M540.0,622.0 L544.0,628.0 L550.0,638.0 L556.0,648.0 L566.0,644.0 L577.0,640.0 L575.0,626.0 L580.0,620.0 L584.0,610.0 L592.0,600.0 L590.0,597.0 L600.0,597.0 L602.0,608.0 L606.0,612.0 L614.0,609.0 L618.0,610.0 L618.0,615.0 L634.0,613.0 L636.0,608.0 L628.0,605.0 L624.0,600.0 L628.0,596.0 L636.0,598.0 L640.0,597.0 L644.0,592.0 L656.0,585.0 L664.0,587.0 L672.0,594.0 L680.0,600.0 L684.0,606.0 L688.0,602.0 L689.0,592.0"/>
<path d="M618.0,615.0 L606.0,617.0 L594.0,622.0 L588.0,628.0 L592.0,638.0 L600.0,640.0 L606.0,644.0 L602.0,656.0 L608.0,668.0 L604.0,678.0 L614.0,672.0 L628.0,677.0 L636.0,670.0 L648.0,662.0 L652.0,659.0 L660.0,666.0 L672.0,660.0 L680.0,662.0 L684.0,656.0 L694.0,652.0 L698.0,650.0 L692.0,646.0 L694.0,634.0 L684.0,628.0 L690.0,620.0 L689.0,608.0 L689.0,592.0"/>
<path d="M698.0,650.0 L706.0,650.0 L712.0,644.0 L720.0,642.0 L724.0,646.0 L728.0,652.0 L722.0,660.0 L722.0,668.0 L728.0,676.0 L738.0,676.0"/>
<path d="M604.0,678.0 L614.0,680.0 L616.0,688.0 L624.0,690.0 L632.0,689.0 L634.0,698.0 L626.0,702.0 L622.0,704.0"/>
<path d="M560.0,488.0 L568.0,484.0 L575.0,482.0 L580.0,490.0 L592.0,492.0 L600.0,500.0 L600.0,510.0 L610.0,514.0 L620.0,512.0 L628.0,508.0 L640.0,510.0 L650.0,516.0 L660.0,520.0 L672.0,524.0 L676.0,534.0 L668.0,540.0 L660.0,552.0 L654.0,560.0 L648.0,568.0 L640.0,563.0 L626.0,562.0 L620.0,578.0 L628.0,590.0 L636.0,594.0 L640.0,598.0"/>
<path d="M628.0,508.0 L627.0,500.0 L630.0,497.0 L640.0,494.0 L638.0,486.0 L641.0,480.0 L638.0,472.0 L640.0,466.0 L640.0,458.0 L639.0,450.0 L647.0,446.0 L646.0,440.0 L640.0,436.0 L640.0,428.0 L644.0,424.0 L654.0,427.0 L664.0,431.0 L674.0,436.0 L678.0,442.0 L676.0,450.0 L677.0,459.0 L664.0,460.0 L661.0,466.0 L640.0,466.0"/>
<path d="M672.0,524.0 L680.0,528.0 L690.0,534.0 L696.0,532.0 L696.0,518.0 L704.0,512.0 L700.0,506.0 L694.0,504.0 L704.0,504.0 L720.0,502.0"/>
<path d="M696.0,532.0 L704.0,540.0 L704.0,550.0 L698.0,554.0 L688.0,558.0 L678.0,558.0 L675.0,566.0 L680.0,576.0 L688.0,584.0 L690.0,594.0"/>
<path d="M720.0,502.0 L730.0,514.0 L740.0,518.0 L756.0,520.0 L768.0,520.0 L772.0,528.0 L776.0,534.0 L786.0,538.0 L800.0,540.0"/>
<path d="M690.0,594.0 L692.0,578.0 L700.0,574.0 L712.0,574.0 L714.0,568.0 L726.0,570.0 L740.0,578.0 L750.0,578.0 L755.0,574.0 L760.0,578.0 L766.0,572.0 L769.0,586.0 L775.0,590.0"/>
<path d="M912.5,91.2 L905.0,105.0 L916.2,111.2 L923.8,108.8 L931.2,117.5 L933.8,130.0 L945.0,133.8 L962.5,133.8 L973.8,126.2 L982.5,130.0 L991.2,138.8 L983.8,152.5 L976.2,162.5 L973.8,172.5 L968.8,181.2 L962.5,190.0 L961.2,197.5 L960.0,190.0 L942.5,200.0 L926.2,213.8 L930.0,220.0 L936.2,227.5 L932.5,240.0 L925.0,245.0 L917.5,242.5 L912.5,243.8 L920.0,252.5 L921.2,265.0 L925.0,277.5 L938.8,272.5 L941.2,280.0 L945.0,285.0 L942.5,290.0 L947.5,297.5 L940.0,303.8 L933.8,308.8 L925.0,308.8 L910.0,313.8 L901.2,320.0 L891.2,320.0 L880.0,326.2"/>
<path d="M936.2,227.5 L942.5,222.5 L947.5,223.8 L952.5,225.0 L953.8,237.5 L957.5,247.5 L967.5,253.8 L982.5,251.2 L990.0,258.8 L1000.0,257.5 L1007.5,262.5 L1008.8,270.0 L1015.0,270.0 L1020.0,280.0 L1030.0,272.5 L1035.0,280.0 L1040.0,292.5 L1050.0,287.5 L1060.0,282.5 L1067.5,287.5 L1077.5,290.0 L1085.0,293.8"/>
<path d="M947.5,297.5 L950.0,293.8 L962.5,303.8 L968.8,300.0 L971.2,305.0 L975.0,313.8 L980.0,315.0 L977.5,320.0 L980.0,327.5 L983.8,337.5 L985.0,346.2"/>
<path d="M882.8,791.7 L872.6,814.4"/>
<path d="M865.0,852.7 L865.0,875.5"/>
<path d="M863.8,935.7 L860.0,949.9 L855.9,959.4"/>
<path d="M814.1,1018.0 L801.4,1035.4"/>
<path d="M734.0,1111.3 L753.9,1105.0"/>
<path d="M670.1,1037.0 L670.7,1051.2 L672.3,1059.1"/>
<path d="M707.4,930.9 L706.5,943.6 L703.3,952.1"/>
<path d="M916.3,738.3 L902.5,756.3"/>
<path d="M880.0,326.0 L876.0,317.5 L870.0,317.5 L870.0,335.0 L862.5,345.0 L860.0,337.0"/>
<path d="M862.5,345.0 L864.0,352.0 L867.0,358.0 L877.0,362.0"/>
</g>
<path d="M932.0,679.7 L927.0,702.0" fill="none" stroke="#5c5c5c" stroke-width="2"/>
<path d="M771.4,1025.9 L779.3,1019.5 L785.0,1018.0 L784.0,1022.7 L777.7,1027.5Z" fill="#FFF7C0" stroke="#5c5c5c" stroke-width="0.8"/>
<g fill="#5c5c5c">
<rect x="728.8" y="832.2" width="1.6" height="1.2"/>
<rect x="741.8" y="834.5" width="2.1" height="1.6"/>
<rect x="730.5" y="842.9" width="2.6" height="2.0"/>
<rect x="733.2" y="844.9" width="1.6" height="1.2"/>
<rect x="729.2" y="849.4" width="2.1" height="1.6"/>
<rect x="732.1" y="850.8" width="2.6" height="2.0"/>
<rect x="738.9" y="848.0" width="1.6" height="1.2"/>
<rect x="746.6" y="844.0" width="2.1" height="1.6"/>
<rect x="747.9" y="848.3" width="2.6" height="2.0"/>
<rect x="746.2" y="853.4" width="1.6" height="1.2"/>
<rect x="740.9" y="859.9" width="2.1" height="1.6"/>
<rect x="774.8" y="853.0" width="2.6" height="2.0"/>
<rect x="780.1" y="851.8" width="1.6" height="1.2"/>
<rect x="785.2" y="850.4" width="2.1" height="1.6"/>
<rect x="787.5" y="852.4" width="2.6" height="2.0"/>
<rect x="772.1" y="859.1" width="1.6" height="1.2"/>
<rect x="783.0" y="861.1" width="2.1" height="1.6"/>
<rect x="770.1" y="864.1" width="2.6" height="2.0"/>
<rect x="755.7" y="782.5" width="1.6" height="1.2"/>
<rect x="770.3" y="788.3" width="2.1" height="1.6"/>
<rect x="821.6" y="846.4" width="2.6" height="2.0"/>
<rect x="840.8" y="870.8" width="1.6" height="1.2"/>
<rect x="798.2" y="895.9" width="2.1" height="1.6"/>
<rect x="823.9" y="759.0" width="2.6" height="2.0"/>
<rect x="784.8" y="946.1" width="1.6" height="1.2"/>
<rect x="822.5" y="946.6" width="2.1" height="1.6"/>
<rect x="774.8" y="957.8" width="2.6" height="2.0"/>
<rect x="783.2" y="957.2" width="1.6" height="1.2"/>
<rect x="786.1" y="953.9" width="2.1" height="1.6"/>
<rect x="790.6" y="955.2" width="2.6" height="2.0"/>
<rect x="832.3" y="955.6" width="1.6" height="1.2"/>
<rect x="838.4" y="954.8" width="2.1" height="1.6"/>
<rect x="841.3" y="960.0" width="2.6" height="2.0"/>
<rect x="831.6" y="962.0" width="1.6" height="1.2"/>
<rect x="765.6" y="971.9" width="2.1" height="1.6"/>
<rect x="778.0" y="969.5" width="2.6" height="2.0"/>
<rect x="786.4" y="968.3" width="1.6" height="1.2"/>
<rect x="805.1" y="966.5" width="2.1" height="1.6"/>
<rect x="819.1" y="967.9" width="2.6" height="2.0"/>
<rect x="822.8" y="966.7" width="1.6" height="1.2"/>
<rect x="833.6" y="969.7" width="2.1" height="1.6"/>
<rect x="833.4" y="974.9" width="2.6" height="2.0"/>
<rect x="770.6" y="976.2" width="1.6" height="1.2"/>
<rect x="784.5" y="977.6" width="2.1" height="1.6"/>
<rect x="800.1" y="977.4" width="2.6" height="2.0"/>
<rect x="810.1" y="974.6" width="1.6" height="1.2"/>
<rect x="819.4" y="980.8" width="2.1" height="1.6"/>
<rect x="785.9" y="982.1" width="2.6" height="2.0"/>
<rect x="799.0" y="987.3" width="1.6" height="1.2"/>
<rect x="806.7" y="982.3" width="2.1" height="1.6"/>
<rect x="811.2" y="985.3" width="2.6" height="2.0"/>
<rect x="746.8" y="985.7" width="1.6" height="1.2"/>
<rect x="776.6" y="988.7" width="2.1" height="1.6"/>
<rect x="766.9" y="993.2" width="2.6" height="2.0"/>
<rect x="808.5" y="992.0" width="1.6" height="1.2"/>
<rect x="817.8" y="995.0" width="2.1" height="1.6"/>
<rect x="822.3" y="995.8" width="2.6" height="2.0"/>
<rect x="814.9" y="998.4" width="1.6" height="1.2"/>
<rect x="743.4" y="999.1" width="2.1" height="1.6"/>
<rect x="747.9" y="999.6" width="2.6" height="2.0"/>
<rect x="767.4" y="996.8" width="1.6" height="1.2"/>
<rect x="771.9" y="1000.4" width="2.1" height="1.6"/>
<rect x="776.4" y="1001.1" width="2.6" height="2.0"/>
<rect x="784.8" y="999.3" width="1.6" height="1.2"/>
<rect x="730.7" y="1004.5" width="2.1" height="1.6"/>
<rect x="727.3" y="1005.9" width="2.6" height="2.0"/>
<rect x="795.9" y="1007.9" width="1.6" height="1.2"/>
<rect x="800.4" y="1006.7" width="2.1" height="1.6"/>
<rect x="760.6" y="1012.2" width="2.6" height="2.0"/>
<rect x="737.3" y="1015.8" width="1.6" height="1.2"/>
<rect x="754.5" y="1020.3" width="2.1" height="1.6"/>
<rect x="730.5" y="1021.7" width="2.6" height="2.0"/>
<rect x="729.4" y="1026.9" width="1.6" height="1.2"/>
<rect x="787.7" y="1015.6" width="2.1" height="1.6"/>
<rect x="789.0" y="1028.0" width="2.6" height="2.0"/>
<rect x="786.4" y="1033.2" width="1.6" height="1.2"/>
<rect x="765.6" y="1038.7" width="2.1" height="1.6"/>
<rect x="759.0" y="1051.8" width="2.6" height="2.0"/>
<rect x="746.8" y="1058.5" width="1.6" height="1.2"/>
<rect x="745.0" y="1064.6" width="2.1" height="1.6"/>
<rect x="747.9" y="1067.6" width="2.6" height="2.0"/>
<rect x="749.3" y="1076.9" width="1.6" height="1.2"/>
<rect x="752.9" y="1077.3" width="2.1" height="1.6"/>
<rect x="740.6" y="1100.2" width="2.6" height="2.0"/>
<rect x="700.9" y="1019.6" width="1.6" height="1.2"/>
<rect x="711.1" y="1014.3" width="2.1" height="1.6"/>
<rect x="694.1" y="1028.7" width="2.6" height="2.0"/>
<rect x="873.0" y="698.6" width="1.6" height="1.2"/>
<rect x="874.3" y="699.2" width="2.1" height="1.6"/>
<rect x="873.4" y="700.0" width="2.6" height="2.0"/>
<rect x="870.9" y="706.9" width="1.6" height="1.2"/>
<rect x="871.6" y="703.9" width="2.1" height="1.6"/>
<rect x="907.9" y="717.8" width="2.6" height="2.0"/>
<rect x="908.9" y="730.6" width="1.6" height="1.2"/>
<rect x="918.6" y="658.4" width="2.1" height="1.6"/>
<rect x="918.7" y="660.0" width="2.6" height="2.0"/>
<rect x="942.9" y="655.2" width="1.6" height="1.2"/>
<rect x="947.0" y="651.2" width="2.1" height="1.6"/>
<rect x="962.4" y="651.0" width="2.6" height="2.0"/>
<rect x="900.9" y="606.9" width="1.6" height="1.2"/>
<rect x="901.6" y="609.5" width="2.1" height="1.6"/>
<rect x="900.7" y="612.0" width="2.6" height="2.0"/>
<rect x="901.7" y="619.7" width="1.6" height="1.2"/>
<rect x="874.8" y="634.2" width="2.1" height="1.6"/>
<rect x="877.9" y="636.0" width="2.6" height="2.0"/>
<rect x="881.7" y="635.2" width="1.6" height="1.2"/>
<rect x="882.6" y="638.4" width="2.1" height="1.6"/>
<rect x="879.5" y="638.7" width="2.6" height="2.0"/>
<rect x="873.4" y="657.7" width="1.6" height="1.2"/>
<rect x="876.5" y="659.2" width="2.1" height="1.6"/>
<rect x="877.4" y="661.5" width="2.6" height="2.0"/>
<rect x="874.5" y="663.1" width="1.6" height="1.2"/>
<rect x="863.1" y="666.7" width="2.1" height="1.6"/>
<rect x="864.5" y="668.2" width="2.6" height="2.0"/>
<rect x="847.5" y="680.2" width="1.6" height="1.2"/>
<rect x="850.6" y="681.2" width="2.1" height="1.6"/>
<rect x="879.5" y="644.0" width="2.6" height="2.0"/>
<rect x="880.9" y="646.4" width="1.6" height="1.2"/>
<rect x="915.0" y="559.2" width="2.1" height="1.6"/>
<rect x="917.7" y="558.2" width="2.6" height="2.0"/>
<rect x="922.0" y="559.4" width="1.6" height="1.2"/>
<rect x="916.5" y="561.5" width="2.1" height="1.6"/>
<rect x="920.0" y="562.0" width="2.6" height="2.0"/>
<rect x="924.2" y="563.9" width="1.6" height="1.2"/>
<rect x="915.7" y="564.5" width="2.1" height="1.6"/>
<rect x="918.5" y="565.8" width="2.6" height="2.0"/>
<rect x="922.7" y="566.9" width="1.6" height="1.2"/>
<rect x="924.7" y="568.2" width="2.1" height="1.6"/>
<rect x="917.0" y="568.0" width="2.6" height="2.0"/>
<rect x="920.5" y="569.9" width="1.6" height="1.2"/>
<rect x="923.2" y="571.2" width="2.1" height="1.6"/>
<rect x="917.7" y="571.8" width="2.6" height="2.0"/>
<rect x="922.0" y="573.6" width="1.6" height="1.2"/>
<rect x="924.7" y="554.0" width="2.1" height="1.6"/>
<rect x="930.5" y="553.8" width="2.6" height="2.0"/>
<rect x="928.7" y="564.6" width="1.6" height="1.2"/>
<rect x="915.0" y="599.7" width="2.1" height="1.6"/>
<rect x="915.5" y="601.8" width="2.6" height="2.0"/>
<rect x="900.2" y="607.4" width="1.6" height="1.2"/>
<rect x="901.5" y="610.2" width="2.1" height="1.6"/>
<rect x="684.5" y="750.8" width="2.6" height="2.0"/>
<rect x="722.5" y="773.8" width="1.6" height="1.2"/>
<rect x="755.4" y="782.5" width="2.1" height="1.6"/>
<rect x="723.7" y="742.8" width="2.6" height="2.0"/>
<rect x="712.5" y="727.7" width="1.6" height="1.2"/>
<rect x="711.5" y="764.6" width="2.1" height="1.6"/>
<rect x="711.6" y="753.6" width="2.6" height="2.0"/>
</g>
<rect x="58" y="805.2" width="33.3" height="33.8" fill="#FFFFE5"/>
<rect x="58" y="838.8" width="33.3" height="33.8" fill="#FFF7C0"/>
<rect x="58" y="872.4" width="33.3" height="33.8" fill="#FEE79B"/>
<rect x="58" y="905.9" width="33.3" height="33.8" fill="#FECE65"/>
<rect x="58" y="939.5" width="33.3" height="33.8" fill="#FEAC3A"/>
<rect x="58" y="973.0" width="33.3" height="33.8" fill="#F68720"/>
<rect x="58" y="1006.5" width="33.3" height="33.8" fill="#E1640E"/>
<rect x="58" y="1040.1" width="33.3" height="33.8" fill="#C04602"/>
<rect x="58" y="1073.7" width="33.3" height="33.8" fill="#933204"/>
<rect x="58" y="1107.2" width="33.3" height="33.8" fill="#662506"/>
<path d="M24.5,24.5 H1175 V1175 H24.5 Z" fill="none" stroke="#000" stroke-width="1"/>
<path d="M1175,24 V1175 H24" fill="none" stroke="#000" stroke-width="1.6"/>
</svg>
<div class="t cj" style="left:48.6px;top:60.0px;font-size:52px;">父系</div>
<div class="t cj" style="left:153.9px;top:76.9px;font-size:36px;font-weight:bold;">：</div>
<div class="t" style="left:219.0px;top:65.0px;font-size:51.9px;transform:scaleY(1.074);transform-origin:0 80%;">O-FGC50590 (</div>
<div class="t cj" style="left:561.2px;top:60.4px;font-size:52px;">含下游</div>
<div class="t" style="left:719.5px;top:65.0px;font-size:51.9px;transform:scaleY(1.074);transform-origin:0 80%;">)</div>
<div class="t cj" style="left:55.0px;top:753.0px;font-size:36.5px;">相对占比</div>
<div class="lg" style="top:810.3px">0.139% - 0.429%</div>
<div class="lg" style="top:843.8px">0.429% - 0.714%</div>
<div class="lg" style="top:877.3px">0.714% - 1.002%</div>
<div class="lg" style="top:910.8px">1.002% - 1.269%</div>
<div class="lg" style="top:944.3px">1.269% - 1.611%</div>
<div class="lg" style="top:977.8px">1.611% - 2.023%</div>
<div class="lg" style="top:1011.3px">2.023% - 2.381%</div>
<div class="lg" style="top:1044.8px">2.381% - 3.636%</div>
<div class="lg" style="top:1078.3px">3.636% - 5.219%</div>
<div class="lg" style="top:1111.8px">5.219% - 6.250%</div>
<div class="t" style="left:945.3px;top:1112.0px;font-size:27.6px;"><span class="cj" style="font-size:28.2px">作者</span>:O1a<span class="cj" style="font-size:28.2px">溯源群</span></div>
</body></html>
